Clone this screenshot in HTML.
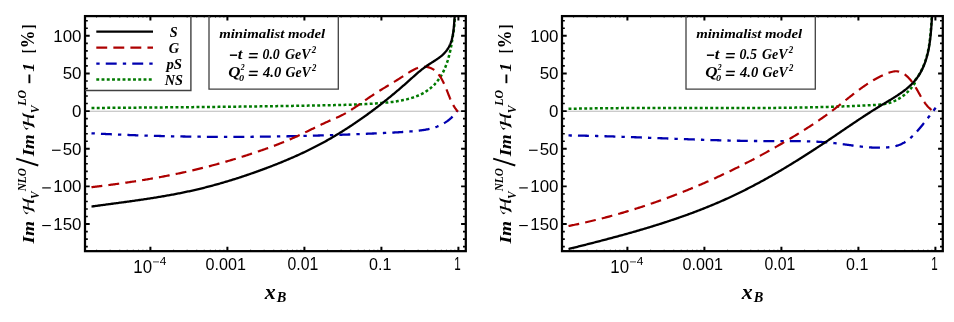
<!DOCTYPE html>
<html><head><meta charset="utf-8"><title>chart</title>
<style>html,body{margin:0;padding:0;background:#fff;}svg{display:block}</style></head>
<body>
<svg width="954" height="322" viewBox="0 0 954 322" style="will-change:transform">
<rect width="954" height="322" fill="#fff"/>
<g transform="translate(0,0)">
<clipPath id="cpa"><rect x="85.0" y="16.1" width="380.8" height="235.05"/></clipPath>
<line x1="85.0" x2="465.8" y1="111.25" y2="111.25" stroke="#8c8c8c" stroke-width="0.6"/>
<g clip-path="url(#cpa)">
<path d="M91.51,108.00L92.56,107.99L93.61,107.98L94.67,107.97L95.72,107.96L96.77,107.95L97.83,107.95L98.88,107.94L99.94,107.93L100.99,107.92L102.05,107.91L103.10,107.90L104.16,107.89L105.22,107.88L106.28,107.88L107.33,107.87L108.39,107.86L109.45,107.85L110.51,107.84L111.57,107.83L112.63,107.82L113.69,107.81L114.75,107.81L115.81,107.80L116.87,107.79L117.93,107.78L118.99,107.77L120.05,107.76L121.11,107.75L122.17,107.74L123.24,107.74L124.30,107.73L125.36,107.72L126.43,107.71L127.49,107.70L128.55,107.69L129.62,107.68L130.68,107.67L131.75,107.66L132.81,107.66L133.88,107.65L134.94,107.64L136.01,107.63L137.07,107.62L138.14,107.61L139.21,107.60L140.27,107.59L141.34,107.59L142.41,107.58L143.47,107.57L144.54,107.56L145.61,107.55L146.68,107.54L147.74,107.53L148.81,107.52L149.88,107.51L150.95,107.50L152.02,107.49L153.09,107.49L154.16,107.48L155.23,107.47L156.30,107.46L157.37,107.45L158.44,107.44L159.51,107.43L160.58,107.42L161.65,107.41L162.72,107.40L163.79,107.39L164.86,107.38L165.93,107.37L167.00,107.37L168.07,107.36L169.14,107.35L170.22,107.34L171.29,107.33L172.36,107.32L173.43,107.31L174.50,107.30L175.58,107.29L176.65,107.28L177.72,107.27L178.79,107.26L179.87,107.25L180.94,107.24L182.01,107.23L183.09,107.22L184.16,107.21L185.23,107.20L186.31,107.19L187.38,107.18L188.45,107.17L189.53,107.16L190.60,107.15L191.67,107.14L192.75,107.13L193.82,107.12L194.89,107.11L195.97,107.10L197.04,107.09L198.12,107.08L199.19,107.06L200.26,107.05L201.34,107.04L202.41,107.03L203.49,107.02L204.56,107.01L205.63,107.00L206.71,106.99L207.78,106.98L208.86,106.97L209.93,106.96L211.01,106.94L212.08,106.93L213.15,106.92L214.23,106.91L215.30,106.90L216.38,106.89L217.45,106.88L218.52,106.87L219.60,106.85L220.67,106.84L221.75,106.83L222.82,106.82L223.89,106.81L224.97,106.79L226.04,106.78L227.12,106.77L228.19,106.76L229.26,106.75L230.34,106.73L231.41,106.72L232.48,106.71L233.56,106.70L234.63,106.68L235.70,106.67L236.78,106.66L237.85,106.65L238.92,106.63L239.99,106.62L241.07,106.61L242.14,106.59L243.21,106.58L244.28,106.57L245.36,106.56L246.43,106.54L247.50,106.53L248.57,106.52L249.65,106.50L250.72,106.49L251.79,106.47L252.86,106.46L253.93,106.45L255.00,106.43L256.07,106.42L257.14,106.40L258.21,106.39L259.28,106.38L260.36,106.36L261.43,106.35L262.50,106.33L263.57,106.32L264.63,106.30L265.70,106.29L266.77,106.27L267.84,106.26L268.91,106.24L269.98,106.23L271.05,106.21L272.12,106.20L273.18,106.18L274.25,106.17L275.32,106.15L276.39,106.14L277.46,106.12L278.52,106.11L279.59,106.09L280.66,106.07L281.72,106.06L282.79,106.04L283.85,106.03L284.92,106.01L285.98,105.99L287.05,105.98L288.11,105.96L289.18,105.94L290.24,105.93L291.31,105.91L292.37,105.89L293.43,105.87L294.50,105.86L295.56,105.84L296.62,105.82L297.69,105.80L298.75,105.79L299.81,105.77L300.87,105.75L301.93,105.73L302.99,105.72L304.05,105.70L305.11,105.68L306.17,105.66L307.23,105.64L308.29,105.62L309.35,105.60L310.41,105.59L311.47,105.57L312.53,105.55L313.58,105.53L314.64,105.51L315.70,105.49L316.75,105.47L317.81,105.45L318.87,105.43L319.92,105.41L320.98,105.39L322.03,105.37L323.09,105.35L324.14,105.33L325.19,105.31L326.25,105.29L327.30,105.27L328.35,105.25L329.40,105.23L330.46,105.21L331.51,105.19L332.56,105.16L333.61,105.14L334.66,105.12L335.71,105.10L336.76,105.07L337.81,105.05L338.86,105.03L339.91,105.00L340.96,104.98L342.01,104.95L343.06,104.93L344.12,104.90L345.17,104.87L346.22,104.84L347.27,104.81L348.33,104.78L349.38,104.75L350.44,104.71L351.49,104.68L352.55,104.64L353.60,104.61L354.66,104.57L355.72,104.53L356.78,104.49L357.84,104.44L358.90,104.40L359.97,104.35L361.03,104.31L362.10,104.26L363.17,104.21L364.23,104.15L365.30,104.10L366.38,104.04L367.45,103.98L368.52,103.92L369.60,103.86L370.68,103.80L371.76,103.73L372.84,103.66L373.92,103.59L375.01,103.52L376.10,103.44L377.19,103.36L378.28,103.28L379.37,103.20L380.47,103.11L381.57,103.02L382.67,102.93L383.77,102.83L384.87,102.73L385.97,102.63L387.08,102.52L388.18,102.40L389.28,102.28L390.38,102.16L391.48,102.03L392.58,101.89L393.68,101.74L394.77,101.59L395.87,101.43L396.96,101.27L398.04,101.09L399.13,100.91L400.21,100.71L401.29,100.51L402.36,100.30L403.43,100.08L404.49,99.85L405.55,99.61L406.60,99.35L407.64,99.09L408.68,98.81L409.72,98.53L410.74,98.23L411.76,97.91L412.77,97.59L413.78,97.25L414.77,96.90L415.76,96.53L416.74,96.15L417.71,95.75L418.66,95.34L419.61,94.92L420.55,94.48L421.48,94.02L422.40,93.54L423.31,93.05L424.20,92.55L425.09,92.02L425.96,91.48L426.82,90.92L427.67,90.34L428.50,89.74L429.32,89.12L430.13,88.48L430.92,87.83L431.70,87.15L432.46,86.46L433.21,85.75L433.95,85.02L434.67,84.28L435.37,83.51L436.06,82.74L436.73,81.94L437.38,81.14L438.01,80.31L438.63,79.47L439.24,78.62L439.82,77.76L440.39,76.88L440.94,75.99L441.47,75.08L441.99,74.17L442.49,73.24L442.98,72.30L443.45,71.36L443.91,70.40L444.35,69.43L444.78,68.45L445.20,67.47L445.60,66.47L445.99,65.47L446.36,64.46L446.73,63.44L447.08,62.41L447.42,61.38L447.75,60.35L448.06,59.30L448.37,58.26L448.67,57.20L448.95,56.15L449.23,55.09L449.49,54.02L449.75,52.95L450.00,51.88L450.24,50.81L450.47,49.74L450.69,48.66L450.91,47.59L451.12,46.51L451.32,45.44L451.51,44.36L451.70,43.29L451.88,42.21L452.06,41.14L452.23,40.07L452.40,39.00L452.56,37.94L452.72,36.87L452.87,35.81L453.02,34.75L453.16,33.70L453.31,33.78L453.48,32.66L453.64,31.54L453.78,30.41L453.91,29.28L454.03,28.15L454.14,27.01L454.24,25.88L454.33,24.75L454.42,23.62L454.51,22.49L454.60,21.37L454.68,20.26L454.77,19.15L454.86,18.05L454.95,16.97L455.05,15.89L455.16,14.82L455.27,13.77L455.39,12.73L455.53,11.71L455.68,10.71" fill="none" stroke="#007a00" stroke-width="2.5" stroke-dasharray="2.9 2.35"/>
<path d="M91.49,133.29L92.43,133.34L93.36,133.39L94.30,133.44L95.23,133.49L96.16,133.53L97.10,133.58L98.03,133.63L98.97,133.68L99.90,133.73L100.84,133.77L101.77,133.82L102.71,133.87L103.64,133.91L104.57,133.96L105.51,134.00L106.44,134.05L107.38,134.09L108.31,134.14L109.25,134.18L110.18,134.22L111.11,134.26L112.05,134.31L112.98,134.35L113.92,134.39L114.85,134.43L115.79,134.47L116.72,134.51L117.65,134.55L118.59,134.59L119.52,134.63L120.46,134.67L121.39,134.71L122.33,134.75L123.26,134.79L124.20,134.83L125.13,134.86L126.06,134.90L127.00,134.94L127.93,134.97L128.87,135.01L129.80,135.04L130.73,135.08L131.67,135.11L132.60,135.15L133.54,135.18L134.47,135.22L135.41,135.25L136.34,135.28L137.27,135.32L138.21,135.35L139.14,135.38L140.08,135.41L141.01,135.44L141.95,135.47L142.88,135.50L143.81,135.53L144.75,135.56L145.68,135.59L146.62,135.62L147.55,135.65L148.48,135.68L149.42,135.71L150.35,135.74L151.29,135.76L152.22,135.79L153.16,135.82L154.09,135.84L155.02,135.87L155.96,135.89L156.89,135.92L157.83,135.94L158.76,135.97L159.69,135.99L160.63,136.02L161.56,136.04L162.50,136.06L163.43,136.09L164.37,136.11L165.30,136.13L166.23,136.15L167.17,136.17L168.10,136.20L169.04,136.22L169.97,136.24L170.90,136.26L171.84,136.28L172.77,136.30L173.71,136.32L174.64,136.33L175.57,136.35L176.51,136.37L177.44,136.39L178.38,136.41L179.31,136.42L180.24,136.44L181.18,136.46L182.11,136.47L183.05,136.49L183.98,136.50L184.91,136.52L185.85,136.53L186.78,136.55L187.72,136.56L188.65,136.58L189.58,136.59L190.52,136.60L191.45,136.62L192.39,136.63L193.32,136.64L194.25,136.65L195.19,136.66L196.12,136.67L197.06,136.69L197.99,136.70L198.92,136.71L199.86,136.72L200.79,136.73L201.73,136.73L202.66,136.74L203.59,136.75L204.53,136.76L205.46,136.77L206.40,136.78L207.33,136.78L208.26,136.79L209.20,136.80L210.13,136.80L211.07,136.81L212.00,136.81L212.93,136.82L213.87,136.83L214.80,136.83L215.74,136.83L216.67,136.84L217.60,136.84L218.54,136.85L219.47,136.85L220.41,136.85L221.34,136.85L222.27,136.86L223.21,136.86L224.14,136.86L225.08,136.86L226.01,136.86L226.94,136.86L227.88,136.86L228.81,136.86L229.75,136.86L230.68,136.86L231.61,136.86L232.55,136.86L233.48,136.86L234.41,136.86L235.35,136.86L236.28,136.85L237.22,136.85L238.15,136.85L239.08,136.85L240.02,136.84L240.95,136.84L241.89,136.83L242.82,136.83L243.75,136.82L244.69,136.82L245.62,136.81L246.56,136.81L247.49,136.80L248.42,136.80L249.36,136.79L250.29,136.78L251.22,136.78L252.16,136.77L253.09,136.76L254.03,136.75L254.96,136.74L255.89,136.74L256.83,136.73L257.76,136.72L258.70,136.71L259.63,136.70L260.56,136.69L261.50,136.68L262.43,136.67L263.37,136.66L264.30,136.65L265.23,136.63L266.17,136.62L267.10,136.61L268.03,136.60L268.97,136.58L269.90,136.57L270.84,136.56L271.77,136.55L272.70,136.53L273.64,136.52L274.57,136.50L275.51,136.49L276.44,136.47L277.37,136.46L278.31,136.44L279.24,136.43L280.17,136.41L281.11,136.39L282.04,136.38L282.98,136.36L283.91,136.34L284.84,136.33L285.78,136.31L286.71,136.29L287.65,136.27L288.58,136.25L289.51,136.24L290.45,136.22L291.38,136.20L292.32,136.18L293.25,136.16L294.18,136.14L295.12,136.12L296.05,136.10L296.98,136.07L297.92,136.05L298.85,136.03L299.79,136.01L300.72,135.99L301.65,135.97L302.59,135.94L303.52,135.92L304.46,135.90L305.39,135.87L306.32,135.85L307.26,135.83L308.19,135.80L309.12,135.78L310.06,135.75L310.99,135.73L311.93,135.70L312.86,135.68L313.79,135.65L314.73,135.62L315.66,135.60L316.60,135.57L317.53,135.54L318.46,135.52L319.40,135.49L320.33,135.46L321.27,135.43L322.20,135.41L323.13,135.38L324.07,135.35L325.00,135.32L325.93,135.29L326.87,135.26L327.80,135.23L328.74,135.20L329.67,135.17L330.60,135.14L331.54,135.11L332.47,135.08L333.41,135.05L334.34,135.02L335.27,134.99L336.21,134.95L337.14,134.92L338.08,134.89L339.01,134.86L339.94,134.82L340.88,134.79L341.81,134.76L342.74,134.72L343.68,134.69L344.61,134.66L345.55,134.62L346.48,134.59L347.41,134.55L348.35,134.52L349.28,134.48L350.22,134.45L351.15,134.41L352.08,134.37L353.02,134.34L353.95,134.30L354.89,134.26L355.82,134.23L356.75,134.19L357.69,134.15L358.62,134.11L359.56,134.08L360.49,134.04L361.42,134.00L362.36,133.96L363.29,133.92L364.23,133.88L365.16,133.84L366.09,133.80L367.03,133.76L367.96,133.72L368.90,133.68L369.83,133.64L370.76,133.60L371.70,133.56L372.63,133.52L373.56,133.48L374.50,133.43L375.43,133.39L376.37,133.35L377.30,133.31L378.23,133.27L379.17,133.22L380.10,133.18L381.04,133.14L381.97,133.09L382.90,133.05L383.84,133.00L384.77,132.96L385.71,132.92L386.64,132.87L387.58,132.83L388.51,132.78L389.44,132.73L390.38,132.69L391.31,132.64L392.25,132.59L393.18,132.54L394.12,132.49L395.05,132.44L395.98,132.39L396.92,132.34L397.85,132.28L398.79,132.23L399.73,132.17L400.66,132.12L401.60,132.06L402.53,132.00L403.47,131.94L404.40,131.87L405.34,131.81L406.28,131.75L407.21,131.68L408.15,131.61L409.09,131.54L410.03,131.47L410.96,131.40L411.90,131.32L412.84,131.24L413.78,131.16L414.71,131.08L415.65,130.99L416.58,130.90L417.52,130.80L418.45,130.70L419.38,130.59L420.31,130.47L421.24,130.35L422.16,130.22L423.08,130.09L424.00,129.94L424.92,129.79L425.83,129.63L426.74,129.46L427.65,129.28L428.55,129.09L429.45,128.88L430.34,128.67L431.23,128.45L432.11,128.21L432.99,127.96L433.87,127.69L434.74,127.42L435.60,127.12L436.46,126.82L437.31,126.50L438.15,126.16L438.99,125.81L439.82,125.44L440.64,125.05L441.46,124.65L442.27,124.24L443.07,123.80L443.86,123.35L444.64,122.88L445.42,122.40L446.19,121.89L446.94,121.37L447.69,120.83L448.43,120.27L449.16,119.69L449.88,119.09L450.59,118.48L451.29,117.84L451.97,117.18L452.65,116.51L453.31,115.81L453.97,115.09L454.61,114.36L455.24,113.60L455.85,112.81L456.46,112.01L457.05,111.19L457.63,110.34" fill="none" stroke="#0000b0" stroke-width="2.3" stroke-dasharray="3.35 6.1 10.95 6.1"/>
<path d="M91.47,187.19L92.51,187.07L93.55,186.94L94.60,186.82L95.64,186.69L96.68,186.57L97.72,186.44L98.76,186.31L99.80,186.18L100.84,186.05L101.88,185.92L102.92,185.79L103.96,185.66L105.00,185.53L106.04,185.39L107.08,185.26L108.12,185.12L109.15,184.99L110.19,184.85L111.23,184.71L112.27,184.58L113.31,184.44L114.34,184.30L115.38,184.16L116.42,184.01L117.46,183.87L118.49,183.73L119.53,183.59L120.57,183.44L121.60,183.29L122.64,183.15L123.67,183.00L124.71,182.85L125.75,182.70L126.78,182.55L127.82,182.40L128.85,182.25L129.89,182.09L130.92,181.94L131.95,181.78L132.99,181.63L134.02,181.47L135.05,181.31L136.09,181.15L137.12,180.99L138.15,180.83L139.19,180.66L140.22,180.50L141.25,180.33L142.28,180.17L143.31,180.00L144.35,179.83L145.38,179.66L146.41,179.49L147.44,179.32L148.47,179.14L149.50,178.97L150.53,178.79L151.56,178.61L152.59,178.43L153.62,178.25L154.65,178.07L155.67,177.89L156.70,177.71L157.73,177.52L158.76,177.34L159.79,177.15L160.81,176.96L161.84,176.77L162.87,176.58L163.90,176.38L164.92,176.19L165.95,175.99L166.97,175.79L168.00,175.60L169.02,175.40L170.05,175.19L171.07,174.99L172.10,174.79L173.12,174.58L174.15,174.37L175.17,174.16L176.19,173.95L177.22,173.74L178.24,173.53L179.26,173.31L180.29,173.09L181.31,172.87L182.33,172.65L183.35,172.43L184.37,172.21L185.39,171.98L186.41,171.76L187.43,171.53L188.45,171.30L189.47,171.07L190.49,170.84L191.51,170.60L192.53,170.36L193.55,170.13L194.57,169.89L195.59,169.64L196.60,169.40L197.62,169.16L198.64,168.91L199.65,168.66L200.67,168.41L201.69,168.16L202.70,167.91L203.72,167.65L204.73,167.39L205.75,167.14L206.76,166.88L207.77,166.61L208.79,166.35L209.80,166.09L210.81,165.82L211.83,165.55L212.84,165.28L213.85,165.01L214.86,164.74L215.87,164.46L216.88,164.19L217.89,163.91L218.90,163.63L219.91,163.35L220.92,163.07L221.92,162.78L222.93,162.50L223.94,162.21L224.95,161.92L225.95,161.63L226.96,161.34L227.96,161.05L228.97,160.75L229.97,160.46L230.98,160.16L231.98,159.86L232.98,159.56L233.98,159.26L234.99,158.95L235.99,158.65L236.99,158.34L237.99,158.03L238.99,157.72L239.99,157.41L240.99,157.10L241.98,156.79L242.98,156.47L243.98,156.15L244.97,155.83L245.97,155.51L246.96,155.19L247.96,154.87L248.95,154.55L249.95,154.22L250.94,153.89L251.93,153.57L252.92,153.24L253.91,152.90L254.91,152.57L255.89,152.24L256.88,151.90L257.87,151.56L258.86,151.23L259.85,150.89L260.83,150.55L261.82,150.20L262.81,149.86L263.79,149.51L264.77,149.17L265.76,148.82L266.74,148.47L267.72,148.12L268.70,147.76L269.68,147.41L270.66,147.05L271.64,146.69L272.62,146.33L273.60,145.97L274.57,145.60L275.55,145.23L276.52,144.86L277.50,144.49L278.47,144.11L279.44,143.73L280.41,143.35L281.38,142.97L282.35,142.58L283.32,142.19L284.29,141.80L285.25,141.40L286.22,141.00L287.18,140.60L288.14,140.19L289.11,139.78L290.07,139.37L291.03,138.96L291.99,138.54L292.94,138.11L293.90,137.68L294.86,137.25L295.81,136.82L296.76,136.38L297.72,135.94L298.67,135.50L299.62,135.05L300.57,134.60L301.52,134.15L302.47,133.70L303.41,133.24L304.36,132.79L305.31,132.33L306.25,131.87L307.20,131.41L308.14,130.95L309.09,130.49L310.03,130.03L310.98,129.57L311.92,129.11L312.87,128.65L313.81,128.19L314.75,127.73L315.70,127.27L316.64,126.81L317.59,126.35L318.53,125.90L319.47,125.45L320.42,125.00L321.36,124.55L322.31,124.10L323.25,123.66L324.20,123.21L325.15,122.78L326.09,122.34L327.04,121.91L327.99,121.48L328.94,121.05L329.89,120.63L330.84,120.22L331.79,119.80L332.74,119.39L333.69,118.98L334.64,118.57L335.59,118.16L336.54,117.75L337.48,117.33L338.42,116.90L339.36,116.47L340.30,116.02L341.23,115.57L342.16,115.10L343.09,114.62L344.01,114.13L344.92,113.63L345.83,113.11L346.74,112.59L347.65,112.06L348.55,111.52L349.45,110.96L350.34,110.41L351.23,109.84L352.12,109.27L353.01,108.69L353.89,108.11L354.77,107.52L355.65,106.92L356.53,106.32L357.41,105.72L358.28,105.12L359.15,104.51L360.02,103.91L360.89,103.30L361.76,102.69L362.62,102.08L363.49,101.47L364.36,100.86L365.22,100.26L366.08,99.66L366.95,99.06L367.81,98.46L368.67,97.87L369.54,97.28L370.40,96.70L371.27,96.12L372.13,95.55L373.00,94.98L373.86,94.41L374.73,93.85L375.59,93.29L376.46,92.74L377.33,92.19L378.20,91.64L379.07,91.10L379.94,90.55L380.81,90.01L381.68,89.47L382.56,88.93L383.43,88.39L384.31,87.86L385.18,87.32L386.06,86.78L386.94,86.25L387.82,85.71L388.70,85.17L389.59,84.64L390.47,84.10L391.36,83.55L392.25,83.01L393.14,82.47L394.03,81.92L394.93,81.37L395.82,80.82L396.72,80.26L397.62,79.70L398.52,79.14L399.42,78.57L400.33,78.00L401.24,77.43L402.15,76.85L403.06,76.26L403.98,75.67L404.89,75.07L405.81,74.47L406.74,73.87L407.66,73.27L408.59,72.68L409.52,72.10L410.45,71.53L411.39,70.97L412.33,70.44L413.28,69.92L414.22,69.44L415.17,68.98L416.13,68.55L417.09,68.17L418.05,67.82L419.02,67.51L419.99,67.25L420.97,67.03L421.95,66.87L422.93,66.77L423.92,66.72L424.91,66.74L425.90,66.81L426.88,66.94L427.85,67.13L428.81,67.37L429.75,67.67L430.67,68.02L431.57,68.42L432.43,68.88L433.27,69.39L434.07,69.94L434.86,70.54L435.61,71.18L436.34,71.86L437.05,72.58L437.73,73.34L438.39,74.13L439.03,74.96L439.65,75.81L440.25,76.69L440.83,77.59L441.39,78.52L441.93,79.47L442.45,80.43L442.96,81.41L443.46,82.41L443.94,83.41L444.41,84.43L444.86,85.45L445.30,86.47L445.73,87.50L446.16,88.53L446.57,89.55L446.97,90.57L447.37,91.59L447.76,92.59L448.14,93.58L448.52,94.56L448.89,95.52L449.26,96.47L449.64,97.40L450.01,98.32L450.40,99.23L450.79,100.14L451.19,101.03L451.61,101.92L452.04,102.80L452.49,103.68L452.96,104.56L453.46,105.44L453.99,106.31L454.54,107.19L455.13,108.08L455.75,108.96L456.41,109.86L457.10,110.76L457.85,111.67" fill="none" stroke="#ad0000" stroke-width="2.2" stroke-dasharray="10.9 6.15"/>
<path d="M91.51,206.54L92.59,206.39L93.68,206.24L94.77,206.09L95.85,205.94L96.94,205.80L98.03,205.65L99.12,205.50L100.21,205.36L101.29,205.21L102.38,205.06L103.47,204.92L104.56,204.77L105.65,204.63L106.73,204.48L107.82,204.34L108.91,204.19L110.00,204.05L111.09,203.90L112.18,203.76L113.27,203.61L114.36,203.46L115.44,203.32L116.53,203.17L117.62,203.03L118.71,202.88L119.80,202.73L120.89,202.59L121.98,202.44L123.07,202.29L124.15,202.14L125.24,201.99L126.33,201.84L127.42,201.69L128.51,201.54L129.60,201.39L130.69,201.24L131.77,201.09L132.86,200.94L133.95,200.78L135.04,200.63L136.12,200.47L137.21,200.32L138.30,200.16L139.39,200.00L140.47,199.84L141.56,199.68L142.65,199.52L143.73,199.36L144.82,199.20L145.91,199.04L146.99,198.87L148.08,198.71L149.16,198.54L150.25,198.37L151.33,198.20L152.42,198.03L153.50,197.86L154.59,197.69L155.67,197.51L156.76,197.34L157.84,197.16L158.92,196.98L160.01,196.80L161.09,196.62L162.17,196.44L163.25,196.25L164.34,196.06L165.42,195.88L166.50,195.69L167.58,195.49L168.66,195.30L169.74,195.11L170.82,194.91L171.90,194.71L172.98,194.51L174.06,194.31L175.14,194.10L176.21,193.90L177.29,193.69L178.37,193.48L179.44,193.27L180.52,193.05L181.60,192.84L182.67,192.62L183.75,192.40L184.82,192.18L185.90,191.95L186.97,191.72L188.04,191.49L189.11,191.26L190.19,191.03L191.26,190.79L192.33,190.55L193.40,190.31L194.47,190.06L195.54,189.82L196.61,189.57L197.68,189.32L198.74,189.06L199.81,188.81L200.88,188.55L201.94,188.29L203.01,188.02L204.08,187.76L205.14,187.49L206.20,187.22L207.27,186.94L208.33,186.67L209.39,186.39L210.45,186.11L211.52,185.83L212.58,185.54L213.64,185.26L214.70,184.97L215.76,184.68L216.81,184.38L217.87,184.09L218.93,183.79L219.99,183.49L221.04,183.19L222.10,182.88L223.15,182.58L224.21,182.27L225.26,181.96L226.31,181.64L227.37,181.33L228.42,181.01L229.47,180.69L230.52,180.37L231.57,180.05L232.62,179.72L233.67,179.39L234.72,179.06L235.76,178.73L236.81,178.40L237.86,178.06L238.90,177.73L239.95,177.39L240.99,177.04L242.04,176.70L243.08,176.36L244.12,176.01L245.16,175.66L246.21,175.31L247.25,174.96L248.29,174.60L249.32,174.24L250.36,173.89L251.40,173.53L252.44,173.16L253.48,172.80L254.51,172.43L255.55,172.07L256.58,171.70L257.62,171.33L258.65,170.95L259.68,170.58L260.71,170.20L261.74,169.82L262.77,169.44L263.80,169.06L264.83,168.68L265.86,168.30L266.89,167.91L267.92,167.52L268.94,167.13L269.97,166.74L270.99,166.35L272.02,165.95L273.04,165.55L274.06,165.15L275.08,164.75L276.10,164.35L277.12,163.95L278.14,163.54L279.16,163.13L280.18,162.72L281.19,162.31L282.21,161.89L283.22,161.47L284.24,161.05L285.25,160.63L286.26,160.21L287.27,159.78L288.28,159.36L289.29,158.92L290.30,158.49L291.30,158.06L292.31,157.62L293.31,157.18L294.31,156.74L295.32,156.29L296.32,155.84L297.32,155.40L298.31,154.94L299.31,154.49L300.31,154.03L301.30,153.57L302.30,153.11L303.29,152.64L304.28,152.18L305.27,151.70L306.26,151.23L307.25,150.76L308.23,150.28L309.22,149.79L310.20,149.31L311.18,148.82L312.16,148.33L313.14,147.84L314.12,147.34L315.10,146.84L316.07,146.34L317.04,145.84L318.02,145.33L318.99,144.82L319.96,144.30L320.92,143.79L321.89,143.26L322.86,142.74L323.82,142.21L324.78,141.68L325.74,141.15L326.70,140.62L327.66,140.08L328.61,139.54L329.57,138.99L330.52,138.44L331.47,137.89L332.42,137.34L333.37,136.79L334.32,136.23L335.26,135.67L336.20,135.10L337.15,134.53L338.09,133.97L339.03,133.39L339.96,132.82L340.90,132.24L341.83,131.66L342.77,131.08L343.70,130.49L344.63,129.90L345.56,129.31L346.48,128.72L347.41,128.13L348.33,127.53L349.25,126.93L350.17,126.33L351.09,125.72L352.01,125.11L352.92,124.50L353.84,123.89L354.75,123.28L355.66,122.66L356.57,122.04L357.47,121.42L358.38,120.80L359.28,120.17L360.19,119.54L361.09,118.91L361.99,118.28L362.88,117.65L363.78,117.01L364.67,116.37L365.57,115.73L366.46,115.09L367.35,114.45L368.23,113.80L369.12,113.15L370.00,112.50L370.89,111.85L371.77,111.20L372.65,110.54L373.52,109.88L374.40,109.22L375.27,108.56L376.15,107.90L377.02,107.23L377.89,106.57L378.76,105.90L379.62,105.23L380.49,104.55L381.35,103.88L382.21,103.20L383.07,102.53L383.93,101.85L384.79,101.16L385.64,100.48L386.50,99.80L387.35,99.11L388.20,98.42L389.05,97.73L389.90,97.04L390.74,96.34L391.59,95.65L392.43,94.95L393.27,94.25L394.11,93.55L394.95,92.85L395.79,92.14L396.63,91.44L397.46,90.73L398.29,90.02L399.12,89.31L399.95,88.60L400.78,87.89L401.61,87.17L402.43,86.46L403.26,85.74L404.08,85.02L404.90,84.30L405.72,83.57L406.54,82.85L407.36,82.12L408.17,81.40L408.99,80.67L409.80,79.94L410.61,79.21L411.42,78.47L412.24,77.74L413.05,77.01L413.86,76.29L414.68,75.56L415.50,74.84L416.32,74.11L417.15,73.40L417.98,72.69L418.82,71.98L419.66,71.28L420.50,70.58L421.36,69.89L422.22,69.21L423.09,68.54L423.97,67.87L424.86,67.22L425.75,66.57L426.66,65.93L427.58,65.31L428.50,64.69L429.44,64.08L430.38,63.48L431.32,62.88L432.26,62.29L433.21,61.69L434.15,61.09L435.08,60.49L436.00,59.89L436.92,59.27L437.83,58.65L438.72,58.02L439.59,57.37L440.45,56.71L441.28,56.03L442.10,55.33L442.89,54.62L443.65,53.88L444.39,53.13L445.11,52.35L445.79,51.55L446.45,50.73L447.07,49.89L447.66,49.02L448.22,48.14L448.75,47.22L449.24,46.29L449.71,45.34L450.14,44.36L450.54,43.37L450.92,42.36L451.26,41.33L451.58,40.29L451.88,39.23L452.14,38.16L452.39,37.08L452.62,35.99L452.82,34.89L453.01,33.78L453.18,32.66L453.34,31.54L453.48,30.41L453.61,29.28L453.73,28.15L453.84,27.01L453.94,25.88L454.03,24.75L454.12,23.62L454.21,22.49L454.30,21.37L454.38,20.26L454.47,19.15L454.56,18.05L454.65,16.97L454.75,15.89L454.86,14.82L454.97,13.77L455.09,12.73L455.23,11.71L455.38,10.71" fill="none" stroke="#000000" stroke-width="2.3"/>
</g>
<g stroke="#000" fill="none"><path d="M85.0,246.64h2.8M465.8,246.64h-2.8" stroke-width="1.6"/><path d="M85.0,239.11h2.8M465.8,239.11h-2.8" stroke-width="1.6"/><path d="M85.0,231.58h2.8M465.8,231.58h-2.8" stroke-width="1.6"/><path d="M85.0,224.05h4.7M465.8,224.05h-4.7" stroke-width="1.9"/><path d="M85.0,216.52h2.8M465.8,216.52h-2.8" stroke-width="1.6"/><path d="M85.0,208.99h2.8M465.8,208.99h-2.8" stroke-width="1.6"/><path d="M85.0,201.46h2.8M465.8,201.46h-2.8" stroke-width="1.6"/><path d="M85.0,193.93h2.8M465.8,193.93h-2.8" stroke-width="1.6"/><path d="M85.0,186.40h4.7M465.8,186.40h-4.7" stroke-width="1.9"/><path d="M85.0,178.87h2.8M465.8,178.87h-2.8" stroke-width="1.6"/><path d="M85.0,171.34h2.8M465.8,171.34h-2.8" stroke-width="1.6"/><path d="M85.0,163.81h2.8M465.8,163.81h-2.8" stroke-width="1.6"/><path d="M85.0,156.28h2.8M465.8,156.28h-2.8" stroke-width="1.6"/><path d="M85.0,148.75h4.7M465.8,148.75h-4.7" stroke-width="1.9"/><path d="M85.0,141.22h2.8M465.8,141.22h-2.8" stroke-width="1.6"/><path d="M85.0,133.69h2.8M465.8,133.69h-2.8" stroke-width="1.6"/><path d="M85.0,126.16h2.8M465.8,126.16h-2.8" stroke-width="1.6"/><path d="M85.0,118.63h2.8M465.8,118.63h-2.8" stroke-width="1.6"/><path d="M85.0,111.10h4.7M465.8,111.10h-4.7" stroke-width="1.9"/><path d="M85.0,103.57h2.8M465.8,103.57h-2.8" stroke-width="1.6"/><path d="M85.0,96.04h2.8M465.8,96.04h-2.8" stroke-width="1.6"/><path d="M85.0,88.51h2.8M465.8,88.51h-2.8" stroke-width="1.6"/><path d="M85.0,80.98h2.8M465.8,80.98h-2.8" stroke-width="1.6"/><path d="M85.0,73.45h4.7M465.8,73.45h-4.7" stroke-width="1.9"/><path d="M85.0,65.92h2.8M465.8,65.92h-2.8" stroke-width="1.6"/><path d="M85.0,58.39h2.8M465.8,58.39h-2.8" stroke-width="1.6"/><path d="M85.0,50.86h2.8M465.8,50.86h-2.8" stroke-width="1.6"/><path d="M85.0,43.33h2.8M465.8,43.33h-2.8" stroke-width="1.6"/><path d="M85.0,35.80h4.7M465.8,35.80h-4.7" stroke-width="1.9"/><path d="M85.0,28.27h2.8M465.8,28.27h-2.8" stroke-width="1.6"/><path d="M85.0,20.74h2.8M465.8,20.74h-2.8" stroke-width="1.6"/><path d="M96.58,251.15v-1.45M96.58,16.1v1.45" stroke-width="0.8"/><path d="M110.14,251.15v-1.45M110.14,16.1v1.45" stroke-width="0.8"/><path d="M119.76,251.15v-1.45M119.76,16.1v1.45" stroke-width="0.8"/><path d="M127.22,251.15v-1.45M127.22,16.1v1.45" stroke-width="0.8"/><path d="M133.32,251.15v-1.45M133.32,16.1v1.45" stroke-width="0.8"/><path d="M138.47,251.15v-1.45M138.47,16.1v1.45" stroke-width="0.8"/><path d="M142.94,251.15v-1.45M142.94,16.1v1.45" stroke-width="0.8"/><path d="M146.88,251.15v-1.45M146.88,16.1v1.45" stroke-width="0.8"/><path d="M150.40,251.15v-4.3M150.40,16.1v4.3" stroke-width="2.0"/><path d="M173.58,251.15v-1.45M173.58,16.1v1.45" stroke-width="0.8"/><path d="M187.14,251.15v-1.45M187.14,16.1v1.45" stroke-width="0.8"/><path d="M196.76,251.15v-1.45M196.76,16.1v1.45" stroke-width="0.8"/><path d="M204.22,251.15v-1.45M204.22,16.1v1.45" stroke-width="0.8"/><path d="M210.32,251.15v-1.45M210.32,16.1v1.45" stroke-width="0.8"/><path d="M215.47,251.15v-1.45M215.47,16.1v1.45" stroke-width="0.8"/><path d="M219.94,251.15v-1.45M219.94,16.1v1.45" stroke-width="0.8"/><path d="M223.88,251.15v-1.45M223.88,16.1v1.45" stroke-width="0.8"/><path d="M227.40,251.15v-4.3M227.40,16.1v4.3" stroke-width="2.0"/><path d="M250.58,251.15v-1.45M250.58,16.1v1.45" stroke-width="0.8"/><path d="M264.14,251.15v-1.45M264.14,16.1v1.45" stroke-width="0.8"/><path d="M273.76,251.15v-1.45M273.76,16.1v1.45" stroke-width="0.8"/><path d="M281.22,251.15v-1.45M281.22,16.1v1.45" stroke-width="0.8"/><path d="M287.32,251.15v-1.45M287.32,16.1v1.45" stroke-width="0.8"/><path d="M292.47,251.15v-1.45M292.47,16.1v1.45" stroke-width="0.8"/><path d="M296.94,251.15v-1.45M296.94,16.1v1.45" stroke-width="0.8"/><path d="M300.88,251.15v-1.45M300.88,16.1v1.45" stroke-width="0.8"/><path d="M304.40,251.15v-4.3M304.40,16.1v4.3" stroke-width="2.0"/><path d="M327.58,251.15v-1.45M327.58,16.1v1.45" stroke-width="0.8"/><path d="M341.14,251.15v-1.45M341.14,16.1v1.45" stroke-width="0.8"/><path d="M350.76,251.15v-1.45M350.76,16.1v1.45" stroke-width="0.8"/><path d="M358.22,251.15v-1.45M358.22,16.1v1.45" stroke-width="0.8"/><path d="M364.32,251.15v-1.45M364.32,16.1v1.45" stroke-width="0.8"/><path d="M369.47,251.15v-1.45M369.47,16.1v1.45" stroke-width="0.8"/><path d="M373.94,251.15v-1.45M373.94,16.1v1.45" stroke-width="0.8"/><path d="M377.88,251.15v-1.45M377.88,16.1v1.45" stroke-width="0.8"/><path d="M381.40,251.15v-4.3M381.40,16.1v4.3" stroke-width="2.0"/><path d="M404.58,251.15v-1.45M404.58,16.1v1.45" stroke-width="0.8"/><path d="M418.14,251.15v-1.45M418.14,16.1v1.45" stroke-width="0.8"/><path d="M427.76,251.15v-1.45M427.76,16.1v1.45" stroke-width="0.8"/><path d="M435.22,251.15v-1.45M435.22,16.1v1.45" stroke-width="0.8"/><path d="M441.32,251.15v-1.45M441.32,16.1v1.45" stroke-width="0.8"/><path d="M446.47,251.15v-1.45M446.47,16.1v1.45" stroke-width="0.8"/><path d="M450.94,251.15v-1.45M450.94,16.1v1.45" stroke-width="0.8"/><path d="M454.88,251.15v-1.45M454.88,16.1v1.45" stroke-width="0.8"/><path d="M458.40,251.15v-4.3M458.40,16.1v4.3" stroke-width="2.0"/></g>
<rect x="85.0" y="16.1" width="380.8" height="235.05" fill="none" stroke="#000" stroke-width="2.25"/>
<text x="53.25" y="41.73" style="font-family:'Liberation Sans',sans-serif;font-size:16.9px">100</text>
<text x="62.72" y="79.38" style="font-family:'Liberation Sans',sans-serif;font-size:16.9px">50</text>
<text x="72.01" y="117.03" style="font-family:'Liberation Sans',sans-serif;font-size:16.9px">0</text>
<text x="62.72" y="154.68" style="font-family:'Liberation Sans',sans-serif;font-size:16.9px">50</text>
<path d="M51.99,150.25h8.6" stroke="#000" stroke-width="1.15"/>
<text x="53.25" y="192.33" style="font-family:'Liberation Sans',sans-serif;font-size:16.9px">100</text>
<path d="M42.20,187.90h8.6" stroke="#000" stroke-width="1.15"/>
<text x="53.25" y="229.98" style="font-family:'Liberation Sans',sans-serif;font-size:16.9px">150</text>
<path d="M42.20,225.55h8.6" stroke="#000" stroke-width="1.15"/>
<text transform="translate(205.45,270.15) scale(0.9285,1)" style="font-family:'Liberation Sans',sans-serif;font-size:17.43px" fill="#000" xml:space="preserve">0.001</text>
<text transform="translate(287.57,270.15) scale(0.9069,1)" style="font-family:'Liberation Sans',sans-serif;font-size:17.43px" fill="#000" xml:space="preserve">0.01</text>
<text transform="translate(369.06,270.15) scale(0.9224,1)" style="font-family:'Liberation Sans',sans-serif;font-size:17.43px" fill="#000" xml:space="preserve">0.1</text>
<text transform="translate(454.27,270.15) scale(0.6576,1)" style="font-family:'Liberation Sans',sans-serif;font-size:17.68px" fill="#000" xml:space="preserve">1</text>
<text transform="translate(133.25,272.60) scale(0.9446,1)" style="font-family:'Liberation Sans',sans-serif;font-size:17.86px" fill="#000" xml:space="preserve">10</text>
<text transform="translate(159.86,264.60) scale(1.0189,1)" style="font-family:'Liberation Sans',sans-serif;font-size:11.74px" fill="#000" xml:space="preserve">4</text>
<path d="M153.0,261.9h6.0" stroke="#222" stroke-width="0.85"/>
<text transform="translate(264.82,298.60) scale(1.0164,1)" style="font-family:'Liberation Serif',serif;font-weight:bold;font-style:italic;font-size:21.52px" fill="#000" xml:space="preserve">x</text>
<text transform="translate(276.84,301.60) scale(1.0382,1)" style="font-family:'Liberation Serif',serif;font-weight:bold;font-style:italic;font-size:13.85px" fill="#000" xml:space="preserve">B</text>
<g transform="translate(0,244) rotate(-90)"><text transform="translate(0.49,34.00) scale(1.0954,1)" style="font-family:'Liberation Serif',serif;font-weight:bold;font-style:italic;font-size:17.69px" fill="#000" xml:space="preserve">Im</text><path transform="translate(29.49,34.06) scale(0.01639,-0.01640)" d="M1056 720Q1014 693 983.0 643.0Q952 593 941.0 560.0Q930 527 911 455Q907 441 905 434Q904 430 896.5 403.5Q889 377 887.5 371.5Q886 366 880.0 341.5Q874 317 872.0 308.5Q870 300 865.0 278.5Q860 257 858.5 246.0Q857 235 853.5 215.5Q850 196 849.0 182.0Q848 168 847.0 151.0Q846 134 846 118Q846 93 860.0 75.5Q874 58 898 58Q910 58 918 62L921 57Q898 33 843.5 11.5Q789 -10 755 -10Q731 -10 718.5 32.0Q706 74 706 107Q706 124 707.5 142.0Q709 160 710.5 174.0Q712 188 716.0 208.5Q720 229 722.5 240.5Q725 252 730.5 275.0Q736 298 738.5 306.0Q741 314 748.0 340.0Q755 366 757 372Q701 332 671 332Q650 332 607.0 337.0Q564 342 543 342Q481 342 446.5 319.5Q412 297 401.5 260.0Q391 223 386.5 183.0Q382 143 369.0 98.5Q356 54 328 27Q304 4 244.5 -14.5Q185 -33 147 -33Q127 -33 118 -23Q226 -11 376 641Q372 645 365 645Q340 645 303 632Q215 602 163.5 552.5Q112 503 112 420Q112 369 134 338Q95 342 57.0 382.0Q19 422 19 461Q19 479 48.5 508.0Q78 537 104 556Q186 614 300.0 650.0Q414 686 516 686Q532 686 537 675Q501 564 431 340Q483 399 549 399Q575 399 626.0 394.0Q677 389 703 389Q751 389 769 418Q776 430 783 467Q790 498 814.0 568.5Q838 639 850 653Q870 676 939.5 698.5Q1009 721 1049 723Z"/><text transform="translate(52.71,25.90) scale(0.8724,1)" style="font-family:'Liberation Serif',serif;font-weight:bold;font-style:italic;font-size:12.92px" fill="#000" xml:space="preserve">NLO</text><text transform="translate(45.12,39.00) scale(0.8992,1)" style="font-family:'Liberation Serif',serif;font-weight:bold;font-style:italic;font-size:12.62px" fill="#000" xml:space="preserve">V</text><path d="M78.5,38.3L85.4,16.2" stroke="#000" stroke-width="1.9" fill="none"/><text transform="translate(87.69,34.00) scale(1.0704,1)" style="font-family:'Liberation Serif',serif;font-weight:bold;font-style:italic;font-size:17.69px" fill="#000" xml:space="preserve">Im</text><path transform="translate(113.98,34.06) scale(0.01688,-0.01640)" d="M1056 720Q1014 693 983.0 643.0Q952 593 941.0 560.0Q930 527 911 455Q907 441 905 434Q904 430 896.5 403.5Q889 377 887.5 371.5Q886 366 880.0 341.5Q874 317 872.0 308.5Q870 300 865.0 278.5Q860 257 858.5 246.0Q857 235 853.5 215.5Q850 196 849.0 182.0Q848 168 847.0 151.0Q846 134 846 118Q846 93 860.0 75.5Q874 58 898 58Q910 58 918 62L921 57Q898 33 843.5 11.5Q789 -10 755 -10Q731 -10 718.5 32.0Q706 74 706 107Q706 124 707.5 142.0Q709 160 710.5 174.0Q712 188 716.0 208.5Q720 229 722.5 240.5Q725 252 730.5 275.0Q736 298 738.5 306.0Q741 314 748.0 340.0Q755 366 757 372Q701 332 671 332Q650 332 607.0 337.0Q564 342 543 342Q481 342 446.5 319.5Q412 297 401.5 260.0Q391 223 386.5 183.0Q382 143 369.0 98.5Q356 54 328 27Q304 4 244.5 -14.5Q185 -33 147 -33Q127 -33 118 -23Q226 -11 376 641Q372 645 365 645Q340 645 303 632Q215 602 163.5 552.5Q112 503 112 420Q112 369 134 338Q95 342 57.0 382.0Q19 422 19 461Q19 479 48.5 508.0Q78 537 104 556Q186 614 300.0 650.0Q414 686 516 686Q532 686 537 675Q501 564 431 340Q483 399 549 399Q575 399 626.0 394.0Q677 389 703 389Q751 389 769 418Q776 430 783 467Q790 498 814.0 568.5Q838 639 850 653Q870 676 939.5 698.5Q1009 721 1049 723Z"/><text transform="translate(138.22,25.90) scale(0.9156,1)" style="font-family:'Liberation Serif',serif;font-weight:bold;font-style:italic;font-size:12.92px" fill="#000" xml:space="preserve">LO</text><text transform="translate(130.80,39.00) scale(0.9228,1)" style="font-family:'Liberation Serif',serif;font-weight:bold;font-style:italic;font-size:12.62px" fill="#000" xml:space="preserve">V</text><path d="M160.8,29.4h8.7" stroke="#000" stroke-width="1.9" fill="none"/><text transform="translate(172.24,34.00) scale(1.0270,1)" style="font-family:'Liberation Serif',serif;font-weight:bold;font-style:italic;font-size:17.42px" fill="#000" xml:space="preserve">1</text><text transform="translate(190.85,34.00) scale(0.7161,1)" style="font-family:'Liberation Serif',serif;font-weight:bold;font-size:17.00px" fill="#000" xml:space="preserve">[</text><text transform="translate(195.83,34.00) scale(0.9893,1)" style="font-family:'Liberation Serif',serif;font-weight:bold;font-size:17.85px" fill="#000" xml:space="preserve">%</text><text transform="translate(214.97,34.00) scale(0.7754,1)" style="font-family:'Liberation Serif',serif;font-weight:bold;font-size:17.00px" fill="#000" xml:space="preserve">]</text></g>
<path d="M190.9,16.1V90.45H85.0" fill="none" stroke="#404040" stroke-width="1.4"/>
<path d="M96.3,31.6H153.0" fill="none" stroke="#000000" stroke-width="2.3"/>
<text transform="translate(169.82,37.00) scale(1.0131,1)" style="font-family:'Liberation Serif',serif;font-weight:bold;font-style:italic;font-size:13.90px" fill="#000" xml:space="preserve">S</text>
<path d="M96.3,47.6H153.0" fill="none" stroke="#ad0000" stroke-width="2.2" stroke-dasharray="10.9 6.15"/>
<text transform="translate(168.67,53.10) scale(1.0368,1)" style="font-family:'Liberation Serif',serif;font-weight:bold;font-style:italic;font-size:13.90px" fill="#000" xml:space="preserve">G</text>
<path d="M96.3,63.6H153.0" fill="none" stroke="#0000b0" stroke-width="2.3" stroke-dasharray="3.35 6.1 10.95 6.1"/>
<text transform="translate(166.44,68.80) scale(1.0658,1)" style="font-family:'Liberation Serif',serif;font-weight:bold;font-style:italic;font-size:13.90px" fill="#000" xml:space="preserve">pS</text>
<path d="M96.3,79.6H153.0" fill="none" stroke="#007a00" stroke-width="2.5" stroke-dasharray="2.9 2.35"/>
<text transform="translate(164.64,84.70) scale(1.0269,1)" style="font-family:'Liberation Serif',serif;font-weight:bold;font-style:italic;font-size:13.90px" fill="#000" xml:space="preserve">NS</text>
<path d="M209.0,16.1V89.1H338.3V16.1" fill="none" stroke="#404040" stroke-width="1.3"/>
<text transform="translate(219.20,37.90) scale(1.1651,1)" style="font-family:'Liberation Serif',serif;font-weight:bold;font-style:italic;font-size:12.75px" fill="#000" xml:space="preserve">minimalist model</text>
<text transform="translate(237.70,58.90) scale(1.2077,1)" style="font-family:'Liberation Serif',serif;font-weight:bold;font-style:italic;font-size:13.80px" fill="#000" xml:space="preserve">t</text>
<path d="M229.9,55.2h7.2" stroke="#000" stroke-width="1.5"/>
<path d="M249.3,53.7h8.6M248.7,57.5h8.6" stroke="#000" stroke-width="1.45"/>
<text transform="translate(262.48,58.90) scale(1.0103,1)" style="font-family:'Liberation Serif',serif;font-weight:bold;font-style:italic;font-size:13.69px" fill="#000" xml:space="preserve">0.0</text>
<text transform="translate(284.98,58.90) scale(0.9969,1)" style="font-family:'Liberation Serif',serif;font-weight:bold;font-style:italic;font-size:14.00px" fill="#000" xml:space="preserve">GeV</text>
<text transform="translate(311.79,52.50) scale(0.8844,1)" style="font-family:'Liberation Serif',serif;font-weight:bold;font-style:italic;font-size:10.15px" fill="#000" xml:space="preserve">2</text>
<text transform="translate(228.32,76.60) scale(1.2263,1)" style="font-family:'Liberation Serif',serif;font-weight:bold;font-style:italic;font-size:13.80px" fill="#000" xml:space="preserve">Q</text>
<text transform="translate(240.68,69.80) scale(0.9001,1)" style="font-family:'Liberation Serif',serif;font-weight:bold;font-style:italic;font-size:8.62px" fill="#000" xml:space="preserve">2</text>
<text transform="translate(238.89,80.70) scale(1.1074,1)" style="font-family:'Liberation Serif',serif;font-weight:bold;font-style:italic;font-size:9.23px" fill="#000" xml:space="preserve">0</text>
<path d="M249.3,71.4h8.6M248.7,75.2h8.6" stroke="#000" stroke-width="1.45"/>
<text transform="translate(263.05,76.60) scale(1.0661,1)" style="font-family:'Liberation Serif',serif;font-weight:bold;font-style:italic;font-size:13.69px" fill="#000" xml:space="preserve">4.0</text>
<text transform="translate(285.48,76.60) scale(0.9893,1)" style="font-family:'Liberation Serif',serif;font-weight:bold;font-style:italic;font-size:14.00px" fill="#000" xml:space="preserve">GeV</text>
<text transform="translate(312.09,70.70) scale(0.8776,1)" style="font-family:'Liberation Serif',serif;font-weight:bold;font-style:italic;font-size:10.00px" fill="#000" xml:space="preserve">2</text>
</g>
<g transform="translate(477,0)">
<clipPath id="cpb"><rect x="85.0" y="16.1" width="380.8" height="235.05"/></clipPath>
<line x1="85.0" x2="465.8" y1="111.25" y2="111.25" stroke="#8c8c8c" stroke-width="0.6"/>
<g clip-path="url(#cpb)">
<path d="M91.51,108.80L92.42,108.78L93.33,108.76L94.24,108.74L95.15,108.73L96.06,108.71L96.97,108.69L97.88,108.67L98.79,108.65L99.71,108.63L100.62,108.62L101.53,108.60L102.44,108.58L103.35,108.57L104.26,108.55L105.17,108.54L106.08,108.52L106.99,108.51L107.90,108.49L108.81,108.48L109.72,108.46L110.63,108.45L111.54,108.43L112.45,108.42L113.36,108.41L114.28,108.39L115.19,108.38L116.10,108.37L117.01,108.36L117.92,108.35L118.83,108.33L119.74,108.32L120.65,108.31L121.56,108.30L122.47,108.29L123.38,108.28L124.29,108.27L125.21,108.26L126.12,108.25L127.03,108.24L127.94,108.23L128.85,108.22L129.76,108.21L130.67,108.21L131.58,108.20L132.49,108.19L133.41,108.18L134.32,108.17L135.23,108.17L136.14,108.16L137.05,108.15L137.96,108.15L138.87,108.14L139.78,108.13L140.69,108.13L141.61,108.12L142.52,108.12L143.43,108.11L144.34,108.10L145.25,108.10L146.16,108.09L147.07,108.09L147.98,108.08L148.90,108.08L149.81,108.08L150.72,108.07L151.63,108.07L152.54,108.06L153.45,108.06L154.36,108.06L155.28,108.05L156.19,108.05L157.10,108.05L158.01,108.04L158.92,108.04L159.83,108.04L160.74,108.04L161.66,108.03L162.57,108.03L163.48,108.03L164.39,108.03L165.30,108.03L166.21,108.03L167.13,108.02L168.04,108.02L168.95,108.02L169.86,108.02L170.77,108.02L171.68,108.02L172.59,108.02L173.51,108.02L174.42,108.02L175.33,108.02L176.24,108.02L177.15,108.02L178.06,108.02L178.98,108.02L179.89,108.02L180.80,108.02L181.71,108.02L182.62,108.02L183.53,108.02L184.45,108.02L185.36,108.02L186.27,108.02L187.18,108.02L188.09,108.02L189.00,108.02L189.92,108.02L190.83,108.02L191.74,108.02L192.65,108.03L193.56,108.03L194.48,108.03L195.39,108.03L196.30,108.03L197.21,108.03L198.12,108.03L199.03,108.03L199.95,108.04L200.86,108.04L201.77,108.04L202.68,108.04L203.59,108.04L204.50,108.04L205.42,108.05L206.33,108.05L207.24,108.05L208.15,108.05L209.06,108.05L209.98,108.05L210.89,108.06L211.80,108.06L212.71,108.06L213.62,108.06L214.53,108.06L215.45,108.06L216.36,108.07L217.27,108.07L218.18,108.07L219.09,108.07L220.01,108.07L220.92,108.07L221.83,108.08L222.74,108.08L223.65,108.08L224.57,108.08L225.48,108.08L226.39,108.08L227.30,108.09L228.21,108.09L229.12,108.09L230.04,108.09L230.95,108.09L231.86,108.09L232.77,108.09L233.68,108.09L234.60,108.10L235.51,108.10L236.42,108.10L237.33,108.10L238.24,108.10L239.15,108.10L240.07,108.10L240.98,108.10L241.89,108.10L242.80,108.10L243.71,108.10L244.63,108.10L245.54,108.10L246.45,108.10L247.36,108.10L248.27,108.10L249.18,108.10L250.10,108.10L251.01,108.10L251.92,108.10L252.83,108.10L253.74,108.10L254.65,108.10L255.57,108.10L256.48,108.10L257.39,108.10L258.30,108.10L259.21,108.09L260.13,108.09L261.04,108.09L261.95,108.09L262.86,108.09L263.77,108.09L264.68,108.08L265.60,108.08L266.51,108.08L267.42,108.08L268.33,108.07L269.24,108.07L270.15,108.07L271.07,108.06L271.98,108.06L272.89,108.06L273.80,108.05L274.71,108.05L275.62,108.05L276.53,108.04L277.45,108.04L278.36,108.03L279.27,108.03L280.18,108.02L281.09,108.02L282.00,108.01L282.92,108.01L283.83,108.00L284.74,108.00L285.65,107.99L286.56,107.98L287.47,107.98L288.38,107.97L289.30,107.96L290.21,107.96L291.12,107.95L292.03,107.94L292.94,107.93L293.85,107.93L294.76,107.92L295.68,107.91L296.59,107.90L297.50,107.89L298.41,107.88L299.32,107.87L300.23,107.86L301.14,107.85L302.06,107.84L302.97,107.83L303.88,107.82L304.79,107.81L305.70,107.80L306.61,107.79L307.52,107.78L308.43,107.77L309.35,107.76L310.26,107.74L311.17,107.73L312.08,107.72L312.99,107.70L313.90,107.69L314.81,107.68L315.72,107.66L316.63,107.65L317.55,107.64L318.46,107.62L319.37,107.61L320.28,107.59L321.19,107.57L322.10,107.56L323.01,107.54L323.92,107.53L324.83,107.51L325.74,107.49L326.66,107.47L327.57,107.46L328.48,107.44L329.39,107.42L330.30,107.40L331.21,107.38L332.12,107.36L333.03,107.34L333.94,107.32L334.85,107.30L335.76,107.28L336.67,107.26L337.58,107.24L338.50,107.22L339.41,107.20L340.32,107.18L341.23,107.15L342.14,107.13L343.05,107.11L343.96,107.08L344.87,107.06L345.78,107.03L346.69,107.01L347.60,106.98L348.51,106.96L349.42,106.93L350.33,106.91L351.24,106.88L352.15,106.85L353.06,106.83L353.97,106.80L354.88,106.77L355.79,106.74L356.71,106.71L357.62,106.68L358.53,106.65L359.44,106.62L360.35,106.59L361.26,106.56L362.17,106.53L363.08,106.50L363.99,106.47L364.90,106.43L365.81,106.40L366.72,106.37L367.63,106.33L368.54,106.30L369.45,106.27L370.36,106.23L371.27,106.19L372.18,106.16L373.09,106.12L374.00,106.09L374.91,106.05L375.82,106.01L376.73,105.97L377.64,105.93L378.55,105.90L379.45,105.86L380.36,105.82L381.27,105.78L382.18,105.73L383.09,105.69L384.00,105.65L384.91,105.61L385.82,105.57L386.73,105.52L387.64,105.48L388.55,105.44L389.46,105.39L390.37,105.35L391.28,105.30L392.19,105.26L393.10,105.21L394.01,105.16L394.92,105.11L395.82,105.07L396.73,105.02L397.64,104.97L398.55,104.92L399.46,104.87L400.37,104.81L401.28,104.75L402.18,104.68L403.09,104.60L403.99,104.51L404.89,104.42L405.78,104.30L406.68,104.18L407.57,104.04L408.46,103.88L409.34,103.70L410.22,103.50L411.10,103.28L411.97,103.04L412.84,102.78L413.70,102.50L414.55,102.20L415.40,101.88L416.25,101.54L417.08,101.19L417.92,100.81L418.74,100.41L419.56,100.00L420.37,99.56L421.17,99.11L421.97,98.64L422.75,98.16L423.53,97.65L424.30,97.13L425.06,96.60L425.81,96.05L426.55,95.48L427.28,94.91L427.99,94.31L428.70,93.71L429.40,93.09L430.08,92.46L430.75,91.81L431.41,91.16L432.06,90.49L432.69,89.82L433.31,89.13L433.92,88.44L434.51,87.73L435.08,87.02L435.65,86.29L436.19,85.56L436.73,84.82L437.24,84.08L437.75,83.32L438.00,80.25L438.70,79.38L439.38,78.50L440.04,77.60L440.68,76.69L441.31,75.76L441.91,74.82L442.49,73.86L443.06,72.89L443.61,71.91L444.14,70.91L444.65,69.90L445.15,68.88L445.63,67.85L446.09,66.81L446.54,65.75L446.97,64.69L447.38,63.62L447.78,62.53L448.17,61.44L448.53,60.34L448.89,59.23L449.23,58.11L449.55,56.98L449.86,55.85L450.16,54.71L450.44,53.56L450.71,52.41L450.97,51.25L451.22,50.09L451.45,48.92L451.67,47.75L451.88,46.58L452.08,45.40L452.26,44.22L452.44,43.03L452.60,41.84L452.76,40.66L452.91,39.47L453.05,38.28L453.18,37.09L453.30,35.90L453.42,34.71L453.53,33.52L453.64,32.33L453.74,31.15L453.84,29.97L453.93,28.79L454.02,27.62L454.11,26.44L454.20,25.28L454.28,24.12L454.36,22.96L454.44,21.81L454.52,20.66L454.61,19.53L454.69,18.39L454.77,17.27L454.86,16.16L454.95,15.05L455.04,13.95L455.14,12.86L455.24,11.79L455.34,10.72" fill="none" stroke="#007a00" stroke-width="2.5" stroke-dasharray="2.9 2.35"/>
<path d="M91.50,135.45L92.47,135.46L93.43,135.48L94.39,135.49L95.35,135.50L96.31,135.52L97.27,135.53L98.23,135.55L99.19,135.56L100.16,135.58L101.12,135.59L102.08,135.61L103.04,135.63L104.00,135.65L104.96,135.67L105.93,135.68L106.89,135.70L107.85,135.72L108.81,135.74L109.77,135.76L110.73,135.79L111.70,135.81L112.66,135.83L113.62,135.85L114.58,135.87L115.54,135.90L116.51,135.92L117.47,135.95L118.43,135.97L119.39,135.99L120.35,136.02L121.32,136.05L122.28,136.07L123.24,136.10L124.20,136.12L125.17,136.15L126.13,136.18L127.09,136.21L128.05,136.23L129.01,136.26L129.98,136.29L130.94,136.32L131.90,136.35L132.86,136.38L133.83,136.41L134.79,136.44L135.75,136.47L136.71,136.50L137.68,136.53L138.64,136.56L139.60,136.59L140.56,136.63L141.53,136.66L142.49,136.69L143.45,136.72L144.41,136.75L145.38,136.79L146.34,136.82L147.30,136.85L148.26,136.89L149.23,136.92L150.19,136.96L151.15,136.99L152.12,137.02L153.08,137.06L154.04,137.09L155.00,137.13L155.97,137.16L156.93,137.20L157.89,137.23L158.85,137.27L159.82,137.31L160.78,137.34L161.74,137.38L162.71,137.41L163.67,137.45L164.63,137.49L165.59,137.52L166.56,137.56L167.52,137.60L168.48,137.63L169.45,137.67L170.41,137.71L171.37,137.74L172.34,137.78L173.30,137.82L174.26,137.85L175.22,137.89L176.19,137.93L177.15,137.97L178.11,138.00L179.08,138.04L180.04,138.08L181.00,138.12L181.97,138.15L182.93,138.19L183.89,138.23L184.85,138.27L185.82,138.30L186.78,138.34L187.74,138.38L188.71,138.42L189.67,138.45L190.63,138.49L191.60,138.53L192.56,138.56L193.52,138.60L194.48,138.64L195.45,138.68L196.41,138.71L197.37,138.75L198.34,138.79L199.30,138.82L200.26,138.86L201.23,138.90L202.19,138.93L203.15,138.97L204.12,139.00L205.08,139.04L206.04,139.08L207.00,139.11L207.97,139.15L208.93,139.18L209.89,139.22L210.86,139.25L211.82,139.29L212.78,139.32L213.75,139.36L214.71,139.39L215.67,139.43L216.64,139.46L217.60,139.50L218.56,139.53L219.52,139.56L220.49,139.60L221.45,139.63L222.41,139.66L223.38,139.70L224.34,139.73L225.30,139.76L226.26,139.79L227.23,139.82L228.19,139.85L229.15,139.89L230.12,139.92L231.08,139.95L232.04,139.98L233.01,140.01L233.97,140.04L234.93,140.07L235.89,140.10L236.86,140.13L237.82,140.15L238.78,140.18L239.74,140.21L240.71,140.24L241.67,140.26L242.63,140.29L243.60,140.32L244.56,140.34L245.52,140.37L246.48,140.40L247.45,140.42L248.41,140.45L249.37,140.47L250.33,140.49L251.30,140.52L252.26,140.54L253.22,140.56L254.18,140.59L255.15,140.61L256.11,140.63L257.07,140.65L258.03,140.67L259.00,140.69L259.96,140.71L260.92,140.73L261.88,140.75L262.85,140.77L263.81,140.78L264.77,140.80L265.73,140.82L266.70,140.84L267.66,140.85L268.62,140.87L269.58,140.88L270.55,140.90L271.51,140.91L272.47,140.92L273.43,140.94L274.39,140.95L275.36,140.96L276.32,140.97L277.28,140.98L278.24,140.99L279.20,141.00L280.17,141.01L281.13,141.02L282.09,141.03L283.05,141.03L284.01,141.04L284.98,141.05L285.94,141.05L286.90,141.06L287.86,141.06L288.82,141.07L289.78,141.07L290.75,141.07L291.71,141.07L292.67,141.08L293.63,141.08L294.59,141.08L295.55,141.08L296.52,141.07L297.48,141.07L298.44,141.07L299.40,141.07L300.36,141.07L301.32,141.07L302.28,141.06L303.25,141.06L304.21,141.06L305.17,141.06L306.13,141.06L307.09,141.06L308.05,141.05L309.01,141.05L309.97,141.05L310.94,141.06L311.90,141.06L312.86,141.06L313.82,141.06L314.78,141.07L315.74,141.07L316.70,141.08L317.66,141.08L318.63,141.09L319.59,141.10L320.55,141.11L321.51,141.12L322.47,141.13L323.43,141.15L324.39,141.16L325.36,141.18L326.32,141.20L327.28,141.22L328.24,141.24L329.20,141.27L330.16,141.29L331.12,141.32L332.09,141.35L333.05,141.39L334.01,141.42L334.97,141.46L335.93,141.50L336.89,141.54L337.85,141.58L338.82,141.63L339.78,141.68L340.74,141.73L341.70,141.79L342.66,141.84L343.63,141.90L344.59,141.97L345.55,142.03L346.51,142.10L347.47,142.17L348.44,142.25L349.40,142.33L350.36,142.41L351.32,142.50L352.29,142.59L353.25,142.68L354.21,142.77L355.17,142.87L356.13,142.98L357.10,143.09L358.06,143.20L359.02,143.31L359.99,143.43L360.95,143.55L361.91,143.67L362.87,143.79L363.84,143.92L364.80,144.05L365.76,144.17L366.73,144.30L367.69,144.44L368.65,144.57L369.61,144.70L370.58,144.83L371.54,144.97L372.50,145.10L373.46,145.23L374.42,145.36L375.39,145.49L376.35,145.62L377.31,145.75L378.27,145.87L379.23,146.00L380.19,146.12L381.16,146.24L382.12,146.35L383.08,146.46L384.04,146.57L385.00,146.68L385.96,146.78L386.92,146.88L387.88,146.98L388.84,147.07L389.80,147.15L390.76,147.23L391.71,147.31L392.67,147.38L393.63,147.44L394.59,147.50L395.55,147.55L396.50,147.60L397.46,147.64L398.42,147.67L399.37,147.69L400.33,147.71L401.29,147.72L402.24,147.72L403.20,147.72L404.15,147.70L405.10,147.68L406.06,147.65L407.01,147.61L407.96,147.56L408.92,147.50L409.87,147.43L410.82,147.35L411.77,147.25L412.72,147.15L413.66,147.03L414.60,146.89L415.54,146.73L416.47,146.56L417.39,146.36L418.31,146.15L419.22,145.91L420.12,145.64L421.02,145.35L421.90,145.04L422.78,144.70L423.64,144.34L424.50,143.95L425.35,143.54L426.18,143.10L427.01,142.64L427.82,142.16L428.63,141.66L429.42,141.13L430.20,140.59L430.97,140.02L431.73,139.44L432.48,138.83L433.22,138.21L433.95,137.57L434.67,136.92L435.38,136.25L436.09,135.57L436.78,134.88L437.47,134.17L438.15,133.46L438.82,132.73L439.49,132.00L440.15,131.26L440.80,130.51L441.45,129.76L442.09,129.00L442.73,128.24L443.36,127.47L443.99,126.71L444.62,125.94L445.24,125.17L445.86,124.41L446.47,123.64L447.08,122.88L447.69,122.12L448.30,121.36L448.90,120.60L449.50,119.84L450.09,119.08L450.69,118.32L451.28,117.57L451.86,116.81L452.45,116.06L453.03,115.31L453.61,114.55L454.18,113.80L454.75,113.05L455.32,112.30L455.89,111.55L456.45,110.80L457.01,110.05L457.56,109.30L458.12,108.55L458.67,107.80" fill="none" stroke="#0000b0" stroke-width="2.3" stroke-dasharray="3.35 6.1 10.95 6.1"/>
<path d="M91.49,226.02L92.54,225.81L93.58,225.60L94.62,225.39L95.66,225.18L96.70,224.96L97.74,224.75L98.78,224.53L99.82,224.31L100.86,224.09L101.90,223.86L102.94,223.64L103.98,223.41L105.02,223.18L106.05,222.95L107.09,222.71L108.13,222.48L109.16,222.24L110.20,222.01L111.23,221.77L112.27,221.52L113.30,221.28L114.33,221.04L115.37,220.79L116.40,220.54L117.43,220.29L118.46,220.04L119.50,219.78L120.53,219.53L121.56,219.27L122.59,219.01L123.62,218.75L124.65,218.49L125.68,218.22L126.70,217.96L127.73,217.69L128.76,217.42L129.79,217.15L130.81,216.88L131.84,216.60L132.86,216.32L133.89,216.05L134.91,215.77L135.94,215.49L136.96,215.20L137.98,214.92L139.01,214.63L140.03,214.34L141.05,214.05L142.07,213.76L143.09,213.47L144.11,213.17L145.13,212.88L146.15,212.58L147.17,212.28L148.19,211.98L149.21,211.67L150.22,211.37L151.24,211.06L152.26,210.75L153.27,210.45L154.29,210.13L155.30,209.82L156.32,209.51L157.33,209.19L158.34,208.87L159.36,208.55L160.37,208.23L161.38,207.91L162.39,207.58L163.40,207.26L164.41,206.93L165.42,206.60L166.43,206.27L167.44,205.94L168.45,205.60L169.45,205.27L170.46,204.93L171.47,204.59L172.47,204.25L173.48,203.91L174.48,203.56L175.49,203.22L176.49,202.87L177.50,202.52L178.50,202.17L179.50,201.82L180.50,201.47L181.50,201.11L182.50,200.76L183.50,200.40L184.50,200.04L185.50,199.68L186.50,199.31L187.50,198.95L188.49,198.58L189.49,198.22L190.49,197.85L191.48,197.48L192.48,197.11L193.47,196.73L194.47,196.36L195.46,195.98L196.45,195.60L197.44,195.22L198.43,194.84L199.43,194.46L200.42,194.07L201.41,193.69L202.39,193.30L203.38,192.91L204.37,192.52L205.36,192.13L206.35,191.74L207.33,191.34L208.32,190.95L209.30,190.55L210.29,190.15L211.27,189.75L212.25,189.35L213.24,188.94L214.22,188.54L215.20,188.13L216.18,187.72L217.16,187.31L218.14,186.90L219.12,186.49L220.10,186.08L221.08,185.66L222.05,185.24L223.03,184.83L224.00,184.41L224.98,183.98L225.95,183.56L226.93,183.14L227.90,182.71L228.87,182.29L229.85,181.86L230.82,181.43L231.79,181.00L232.76,180.56L233.73,180.13L234.70,179.69L235.67,179.26L236.63,178.82L237.60,178.38L238.57,177.94L239.53,177.49L240.50,177.05L241.46,176.60L242.43,176.16L243.39,175.71L244.35,175.26L245.31,174.81L246.28,174.36L247.24,173.90L248.20,173.45L249.16,172.99L250.11,172.53L251.07,172.07L252.03,171.61L252.99,171.15L253.94,170.69L254.90,170.22L255.85,169.76L256.80,169.29L257.76,168.82L258.71,168.35L259.66,167.88L260.61,167.41L261.56,166.93L262.51,166.46L263.46,165.98L264.41,165.50L265.36,165.02L266.31,164.54L267.25,164.06L268.20,163.57L269.14,163.09L270.09,162.60L271.03,162.12L271.97,161.63L272.92,161.14L273.86,160.65L274.80,160.15L275.74,159.66L276.68,159.16L277.62,158.67L278.55,158.17L279.49,157.67L280.43,157.17L281.36,156.67L282.30,156.16L283.23,155.66L284.17,155.15L285.10,154.65L286.03,154.14L286.96,153.63L287.89,153.12L288.82,152.61L289.75,152.09L290.68,151.58L291.61,151.06L292.53,150.55L293.46,150.03L294.39,149.51L295.31,148.99L296.23,148.47L297.16,147.94L298.08,147.42L299.00,146.89L299.92,146.37L300.84,145.84L301.76,145.31L302.68,144.78L303.60,144.25L304.52,143.71L305.43,143.18L306.35,142.64L307.26,142.11L308.18,141.57L309.09,141.03L310.00,140.49L310.92,139.95L311.83,139.41L312.74,138.86L313.65,138.32L314.56,137.77L315.46,137.22L316.37,136.67L317.28,136.12L318.18,135.57L319.09,135.02L319.99,134.47L320.89,133.91L321.80,133.36L322.70,132.80L323.60,132.24L324.50,131.68L325.40,131.11L326.29,130.55L327.19,129.98L328.08,129.42L328.98,128.85L329.87,128.28L330.76,127.70L331.65,127.13L332.54,126.55L333.43,125.97L334.32,125.39L335.20,124.81L336.09,124.22L336.97,123.63L337.86,123.05L338.74,122.45L339.62,121.86L340.49,121.26L341.37,120.66L342.25,120.06L343.12,119.46L343.99,118.85L344.86,118.25L345.73,117.64L346.60,117.02L347.47,116.41L348.34,115.79L349.20,115.17L350.06,114.54L350.92,113.91L351.78,113.28L352.64,112.65L353.50,112.02L354.35,111.38L355.20,110.74L356.05,110.09L356.90,109.44L357.75,108.79L358.60,108.14L359.44,107.48L360.28,106.83L361.13,106.17L361.97,105.50L362.81,104.84L363.65,104.18L364.48,103.51L365.32,102.84L366.16,102.17L367.00,101.51L367.84,100.84L368.67,100.17L369.51,99.50L370.35,98.84L371.19,98.17L372.03,97.50L372.87,96.84L373.71,96.18L374.55,95.52L375.39,94.86L376.23,94.20L377.08,93.55L377.92,92.90L378.77,92.25L379.62,91.60L380.47,90.96L381.33,90.32L382.18,89.69L383.04,89.06L383.90,88.44L384.76,87.82L385.63,87.20L386.50,86.59L387.37,85.98L388.24,85.38L389.12,84.79L390.00,84.20L390.88,83.62L391.77,83.05L392.66,82.48L393.55,81.92L394.45,81.36L395.35,80.82L396.26,80.28L397.17,79.75L398.09,79.23L399.01,78.71L399.93,78.21L400.86,77.71L401.80,77.23L402.74,76.75L403.68,76.28L404.63,75.83L405.59,75.38L406.55,74.94L407.52,74.51L408.49,74.10L409.47,73.69L410.45,73.30L411.44,72.92L412.44,72.57L413.44,72.24L414.44,71.95L415.44,71.70L416.43,71.49L417.43,71.35L418.42,71.27L419.40,71.26L420.38,71.32L421.35,71.47L422.31,71.70L423.26,72.00L424.20,72.38L425.12,72.81L426.03,73.32L426.93,73.87L427.80,74.48L428.66,75.14L429.51,75.84L430.33,76.58L431.13,77.35L431.91,78.15L432.66,78.98L433.39,79.82L434.10,80.68L434.78,81.56L435.44,82.44L436.07,83.34L436.69,84.25L437.29,85.17L437.88,86.09L438.45,87.02L439.01,87.96L439.56,88.90L440.10,89.85L440.64,90.79L441.17,91.74L441.69,92.68L442.22,93.63L442.74,94.57L443.26,95.50L443.79,96.43L444.33,97.35L444.87,98.27L445.41,99.18L445.97,100.07L446.54,100.96L447.13,101.83L447.72,102.68L448.34,103.53L448.97,104.35L449.63,105.16L450.30,105.95L451.01,106.72L451.73,107.46L452.48,108.19L453.27,108.89L454.08,109.56L454.92,110.21L455.80,110.84L456.72,111.43L457.67,111.99" fill="none" stroke="#ad0000" stroke-width="2.2" stroke-dasharray="10.9 6.15"/>
<path d="M91.54,249.02L92.66,248.74L93.78,248.46L94.90,248.18L96.02,247.90L97.14,247.62L98.26,247.33L99.38,247.05L100.50,246.77L101.63,246.49L102.75,246.20L103.87,245.92L104.99,245.64L106.11,245.35L107.23,245.07L108.36,244.79L109.48,244.50L110.60,244.22L111.72,243.93L112.84,243.64L113.97,243.36L115.09,243.07L116.21,242.78L117.33,242.49L118.46,242.20L119.58,241.91L120.70,241.62L121.82,241.33L122.94,241.04L124.07,240.75L125.19,240.45L126.31,240.16L127.43,239.87L128.56,239.57L129.68,239.28L130.80,238.98L131.92,238.68L133.04,238.38L134.16,238.08L135.28,237.78L136.41,237.48L137.53,237.18L138.65,236.88L139.77,236.58L140.89,236.27L142.01,235.97L143.13,235.66L144.25,235.35L145.37,235.05L146.49,234.74L147.61,234.43L148.73,234.12L149.84,233.80L150.96,233.49L152.08,233.18L153.20,232.86L154.32,232.55L155.43,232.23L156.55,231.91L157.67,231.59L158.78,231.27L159.90,230.95L161.02,230.62L162.13,230.30L163.25,229.97L164.36,229.65L165.47,229.32L166.59,228.99L167.70,228.66L168.81,228.33L169.93,227.99L171.04,227.66L172.15,227.32L173.26,226.98L174.37,226.64L175.48,226.30L176.59,225.96L177.70,225.62L178.81,225.27L179.92,224.93L181.02,224.58L182.13,224.23L183.24,223.88L184.34,223.53L185.45,223.17L186.55,222.82L187.66,222.46L188.76,222.10L189.87,221.74L190.97,221.38L192.07,221.02L193.17,220.65L194.27,220.28L195.37,219.91L196.47,219.54L197.57,219.17L198.67,218.80L199.76,218.42L200.86,218.04L201.96,217.66L203.05,217.28L204.15,216.90L205.24,216.51L206.33,216.13L207.43,215.74L208.52,215.35L209.61,214.96L210.70,214.56L211.79,214.16L212.87,213.77L213.96,213.37L215.05,212.96L216.14,212.56L217.22,212.15L218.30,211.74L219.39,211.33L220.47,210.92L221.55,210.50L222.63,210.09L223.71,209.67L224.79,209.25L225.87,208.82L226.95,208.40L228.02,207.97L229.10,207.54L230.17,207.11L231.25,206.67L232.32,206.23L233.39,205.79L234.46,205.35L235.53,204.91L236.60,204.46L237.67,204.01L238.73,203.56L239.80,203.11L240.86,202.65L241.93,202.20L242.99,201.73L244.05,201.27L245.11,200.81L246.17,200.34L247.23,199.87L248.28,199.39L249.34,198.92L250.39,198.44L251.45,197.96L252.50,197.47L253.55,196.99L254.60,196.50L255.65,196.01L256.70,195.51L257.74,195.02L258.79,194.52L259.83,194.02L260.88,193.51L261.92,193.01L262.96,192.50L264.00,191.99L265.04,191.47L266.08,190.96L267.11,190.44L268.15,189.92L269.18,189.40L270.22,188.87L271.25,188.34L272.28,187.82L273.31,187.28L274.34,186.75L275.37,186.21L276.39,185.67L277.42,185.13L278.44,184.59L279.47,184.05L280.49,183.50L281.51,182.95L282.53,182.40L283.55,181.85L284.57,181.29L285.59,180.74L286.61,180.18L287.62,179.62L288.64,179.05L289.65,178.49L290.66,177.92L291.67,177.35L292.69,176.78L293.70,176.21L294.70,175.64L295.71,175.06L296.72,174.48L297.72,173.90L298.73,173.32L299.73,172.74L300.74,172.16L301.74,171.57L302.74,170.98L303.74,170.39L304.74,169.80L305.74,169.21L306.74,168.62L307.73,168.02L308.73,167.42L309.72,166.83L310.72,166.23L311.71,165.62L312.70,165.02L313.69,164.42L314.69,163.81L315.67,163.21L316.66,162.60L317.65,161.99L318.64,161.38L319.62,160.76L320.61,160.15L321.59,159.54L322.58,158.92L323.56,158.30L324.54,157.68L325.52,157.06L326.50,156.44L327.48,155.82L328.46,155.20L329.44,154.57L330.42,153.95L331.39,153.32L332.37,152.70L333.34,152.07L334.32,151.44L335.29,150.81L336.26,150.18L337.23,149.54L338.21,148.91L339.18,148.28L340.15,147.64L341.11,147.01L342.08,146.37L343.05,145.73L344.02,145.10L344.98,144.46L345.95,143.82L346.91,143.18L347.87,142.54L348.84,141.89L349.80,141.25L350.76,140.61L351.72,139.96L352.68,139.32L353.64,138.68L354.60,138.03L355.56,137.38L356.51,136.74L357.47,136.09L358.43,135.44L359.38,134.80L360.34,134.15L361.29,133.50L362.25,132.85L363.20,132.20L364.16,131.55L365.11,130.91L366.07,130.26L367.02,129.61L367.98,128.96L368.93,128.31L369.89,127.66L370.84,127.01L371.80,126.37L372.75,125.72L373.71,125.07L374.67,124.43L375.63,123.78L376.59,123.13L377.55,122.49L378.51,121.84L379.47,121.20L380.43,120.56L381.40,119.91L382.36,119.27L383.33,118.63L384.30,117.99L385.27,117.35L386.24,116.71L387.21,116.08L388.18,115.44L389.16,114.81L390.13,114.17L391.11,113.54L392.09,112.91L393.08,112.28L394.06,111.65L395.05,111.03L396.03,110.40L397.03,109.78L398.02,109.16L399.01,108.54L400.01,107.92L401.01,107.30L402.01,106.68L403.02,106.07L404.02,105.46L405.03,104.85L406.05,104.24L407.06,103.63L408.08,103.03L409.09,102.42L410.10,101.81L411.12,101.21L412.13,100.60L413.14,99.99L414.15,99.37L415.15,98.76L416.15,98.14L417.15,97.51L418.14,96.89L419.13,96.25L420.11,95.62L421.08,94.97L422.05,94.33L423.01,93.67L423.96,93.01L424.90,92.34L425.83,91.66L426.75,90.98L427.66,90.28L428.56,89.58L429.45,88.87L430.32,88.14L431.18,87.41L432.03,86.66L432.86,85.91L433.68,85.14L434.49,84.36L435.27,83.56L436.05,82.76L436.80,81.93L437.54,81.10L438.25,80.25L438.95,79.38L439.63,78.50L440.29,77.60L440.93,76.69L441.56,75.76L442.16,74.82L442.74,73.86L443.31,72.89L443.86,71.91L444.39,70.91L444.90,69.90L445.40,68.88L445.88,67.85L446.34,66.81L446.79,65.75L447.22,64.69L447.63,63.62L448.03,62.53L448.42,61.44L448.78,60.34L449.14,59.23L449.48,58.11L449.80,56.98L450.11,55.85L450.41,54.71L450.69,53.56L450.96,52.41L451.22,51.25L451.47,50.09L451.70,48.92L451.92,47.75L452.13,46.58L452.33,45.40L452.51,44.22L452.69,43.03L452.85,41.84L453.01,40.66L453.16,39.47L453.30,38.28L453.43,37.09L453.55,35.90L453.67,34.71L453.78,33.52L453.89,32.33L453.99,31.15L454.09,29.97L454.18,28.79L454.27,27.62L454.36,26.44L454.45,25.28L454.53,24.12L454.61,22.96L454.69,21.81L454.77,20.66L454.86,19.53L454.94,18.39L455.02,17.27L455.11,16.16L455.20,15.05L455.29,13.95L455.39,12.86L455.49,11.79L455.59,10.72" fill="none" stroke="#000000" stroke-width="2.3"/>
</g>
<g stroke="#000" fill="none"><path d="M85.0,246.64h2.8M465.8,246.64h-2.8" stroke-width="1.6"/><path d="M85.0,239.11h2.8M465.8,239.11h-2.8" stroke-width="1.6"/><path d="M85.0,231.58h2.8M465.8,231.58h-2.8" stroke-width="1.6"/><path d="M85.0,224.05h4.7M465.8,224.05h-4.7" stroke-width="1.9"/><path d="M85.0,216.52h2.8M465.8,216.52h-2.8" stroke-width="1.6"/><path d="M85.0,208.99h2.8M465.8,208.99h-2.8" stroke-width="1.6"/><path d="M85.0,201.46h2.8M465.8,201.46h-2.8" stroke-width="1.6"/><path d="M85.0,193.93h2.8M465.8,193.93h-2.8" stroke-width="1.6"/><path d="M85.0,186.40h4.7M465.8,186.40h-4.7" stroke-width="1.9"/><path d="M85.0,178.87h2.8M465.8,178.87h-2.8" stroke-width="1.6"/><path d="M85.0,171.34h2.8M465.8,171.34h-2.8" stroke-width="1.6"/><path d="M85.0,163.81h2.8M465.8,163.81h-2.8" stroke-width="1.6"/><path d="M85.0,156.28h2.8M465.8,156.28h-2.8" stroke-width="1.6"/><path d="M85.0,148.75h4.7M465.8,148.75h-4.7" stroke-width="1.9"/><path d="M85.0,141.22h2.8M465.8,141.22h-2.8" stroke-width="1.6"/><path d="M85.0,133.69h2.8M465.8,133.69h-2.8" stroke-width="1.6"/><path d="M85.0,126.16h2.8M465.8,126.16h-2.8" stroke-width="1.6"/><path d="M85.0,118.63h2.8M465.8,118.63h-2.8" stroke-width="1.6"/><path d="M85.0,111.10h4.7M465.8,111.10h-4.7" stroke-width="1.9"/><path d="M85.0,103.57h2.8M465.8,103.57h-2.8" stroke-width="1.6"/><path d="M85.0,96.04h2.8M465.8,96.04h-2.8" stroke-width="1.6"/><path d="M85.0,88.51h2.8M465.8,88.51h-2.8" stroke-width="1.6"/><path d="M85.0,80.98h2.8M465.8,80.98h-2.8" stroke-width="1.6"/><path d="M85.0,73.45h4.7M465.8,73.45h-4.7" stroke-width="1.9"/><path d="M85.0,65.92h2.8M465.8,65.92h-2.8" stroke-width="1.6"/><path d="M85.0,58.39h2.8M465.8,58.39h-2.8" stroke-width="1.6"/><path d="M85.0,50.86h2.8M465.8,50.86h-2.8" stroke-width="1.6"/><path d="M85.0,43.33h2.8M465.8,43.33h-2.8" stroke-width="1.6"/><path d="M85.0,35.80h4.7M465.8,35.80h-4.7" stroke-width="1.9"/><path d="M85.0,28.27h2.8M465.8,28.27h-2.8" stroke-width="1.6"/><path d="M85.0,20.74h2.8M465.8,20.74h-2.8" stroke-width="1.6"/><path d="M96.58,251.15v-1.45M96.58,16.1v1.45" stroke-width="0.8"/><path d="M110.14,251.15v-1.45M110.14,16.1v1.45" stroke-width="0.8"/><path d="M119.76,251.15v-1.45M119.76,16.1v1.45" stroke-width="0.8"/><path d="M127.22,251.15v-1.45M127.22,16.1v1.45" stroke-width="0.8"/><path d="M133.32,251.15v-1.45M133.32,16.1v1.45" stroke-width="0.8"/><path d="M138.47,251.15v-1.45M138.47,16.1v1.45" stroke-width="0.8"/><path d="M142.94,251.15v-1.45M142.94,16.1v1.45" stroke-width="0.8"/><path d="M146.88,251.15v-1.45M146.88,16.1v1.45" stroke-width="0.8"/><path d="M150.40,251.15v-4.3M150.40,16.1v4.3" stroke-width="2.0"/><path d="M173.58,251.15v-1.45M173.58,16.1v1.45" stroke-width="0.8"/><path d="M187.14,251.15v-1.45M187.14,16.1v1.45" stroke-width="0.8"/><path d="M196.76,251.15v-1.45M196.76,16.1v1.45" stroke-width="0.8"/><path d="M204.22,251.15v-1.45M204.22,16.1v1.45" stroke-width="0.8"/><path d="M210.32,251.15v-1.45M210.32,16.1v1.45" stroke-width="0.8"/><path d="M215.47,251.15v-1.45M215.47,16.1v1.45" stroke-width="0.8"/><path d="M219.94,251.15v-1.45M219.94,16.1v1.45" stroke-width="0.8"/><path d="M223.88,251.15v-1.45M223.88,16.1v1.45" stroke-width="0.8"/><path d="M227.40,251.15v-4.3M227.40,16.1v4.3" stroke-width="2.0"/><path d="M250.58,251.15v-1.45M250.58,16.1v1.45" stroke-width="0.8"/><path d="M264.14,251.15v-1.45M264.14,16.1v1.45" stroke-width="0.8"/><path d="M273.76,251.15v-1.45M273.76,16.1v1.45" stroke-width="0.8"/><path d="M281.22,251.15v-1.45M281.22,16.1v1.45" stroke-width="0.8"/><path d="M287.32,251.15v-1.45M287.32,16.1v1.45" stroke-width="0.8"/><path d="M292.47,251.15v-1.45M292.47,16.1v1.45" stroke-width="0.8"/><path d="M296.94,251.15v-1.45M296.94,16.1v1.45" stroke-width="0.8"/><path d="M300.88,251.15v-1.45M300.88,16.1v1.45" stroke-width="0.8"/><path d="M304.40,251.15v-4.3M304.40,16.1v4.3" stroke-width="2.0"/><path d="M327.58,251.15v-1.45M327.58,16.1v1.45" stroke-width="0.8"/><path d="M341.14,251.15v-1.45M341.14,16.1v1.45" stroke-width="0.8"/><path d="M350.76,251.15v-1.45M350.76,16.1v1.45" stroke-width="0.8"/><path d="M358.22,251.15v-1.45M358.22,16.1v1.45" stroke-width="0.8"/><path d="M364.32,251.15v-1.45M364.32,16.1v1.45" stroke-width="0.8"/><path d="M369.47,251.15v-1.45M369.47,16.1v1.45" stroke-width="0.8"/><path d="M373.94,251.15v-1.45M373.94,16.1v1.45" stroke-width="0.8"/><path d="M377.88,251.15v-1.45M377.88,16.1v1.45" stroke-width="0.8"/><path d="M381.40,251.15v-4.3M381.40,16.1v4.3" stroke-width="2.0"/><path d="M404.58,251.15v-1.45M404.58,16.1v1.45" stroke-width="0.8"/><path d="M418.14,251.15v-1.45M418.14,16.1v1.45" stroke-width="0.8"/><path d="M427.76,251.15v-1.45M427.76,16.1v1.45" stroke-width="0.8"/><path d="M435.22,251.15v-1.45M435.22,16.1v1.45" stroke-width="0.8"/><path d="M441.32,251.15v-1.45M441.32,16.1v1.45" stroke-width="0.8"/><path d="M446.47,251.15v-1.45M446.47,16.1v1.45" stroke-width="0.8"/><path d="M450.94,251.15v-1.45M450.94,16.1v1.45" stroke-width="0.8"/><path d="M454.88,251.15v-1.45M454.88,16.1v1.45" stroke-width="0.8"/><path d="M458.40,251.15v-4.3M458.40,16.1v4.3" stroke-width="2.0"/></g>
<rect x="85.0" y="16.1" width="380.8" height="235.05" fill="none" stroke="#000" stroke-width="2.25"/>
<text x="53.25" y="41.73" style="font-family:'Liberation Sans',sans-serif;font-size:16.9px">100</text>
<text x="62.72" y="79.38" style="font-family:'Liberation Sans',sans-serif;font-size:16.9px">50</text>
<text x="72.01" y="117.03" style="font-family:'Liberation Sans',sans-serif;font-size:16.9px">0</text>
<text x="62.72" y="154.68" style="font-family:'Liberation Sans',sans-serif;font-size:16.9px">50</text>
<path d="M51.99,150.25h8.6" stroke="#000" stroke-width="1.15"/>
<text x="53.25" y="192.33" style="font-family:'Liberation Sans',sans-serif;font-size:16.9px">100</text>
<path d="M42.20,187.90h8.6" stroke="#000" stroke-width="1.15"/>
<text x="53.25" y="229.98" style="font-family:'Liberation Sans',sans-serif;font-size:16.9px">150</text>
<path d="M42.20,225.55h8.6" stroke="#000" stroke-width="1.15"/>
<text transform="translate(205.45,270.15) scale(0.9285,1)" style="font-family:'Liberation Sans',sans-serif;font-size:17.43px" fill="#000" xml:space="preserve">0.001</text>
<text transform="translate(287.57,270.15) scale(0.9069,1)" style="font-family:'Liberation Sans',sans-serif;font-size:17.43px" fill="#000" xml:space="preserve">0.01</text>
<text transform="translate(369.06,270.15) scale(0.9224,1)" style="font-family:'Liberation Sans',sans-serif;font-size:17.43px" fill="#000" xml:space="preserve">0.1</text>
<text transform="translate(454.27,270.15) scale(0.6576,1)" style="font-family:'Liberation Sans',sans-serif;font-size:17.68px" fill="#000" xml:space="preserve">1</text>
<text transform="translate(133.25,272.60) scale(0.9446,1)" style="font-family:'Liberation Sans',sans-serif;font-size:17.86px" fill="#000" xml:space="preserve">10</text>
<text transform="translate(159.86,264.60) scale(1.0189,1)" style="font-family:'Liberation Sans',sans-serif;font-size:11.74px" fill="#000" xml:space="preserve">4</text>
<path d="M153.0,261.9h6.0" stroke="#222" stroke-width="0.85"/>
<text transform="translate(264.82,298.60) scale(1.0164,1)" style="font-family:'Liberation Serif',serif;font-weight:bold;font-style:italic;font-size:21.52px" fill="#000" xml:space="preserve">x</text>
<text transform="translate(276.84,301.60) scale(1.0382,1)" style="font-family:'Liberation Serif',serif;font-weight:bold;font-style:italic;font-size:13.85px" fill="#000" xml:space="preserve">B</text>
<g transform="translate(0,244) rotate(-90)"><text transform="translate(0.49,34.00) scale(1.0954,1)" style="font-family:'Liberation Serif',serif;font-weight:bold;font-style:italic;font-size:17.69px" fill="#000" xml:space="preserve">Im</text><path transform="translate(29.49,34.06) scale(0.01639,-0.01640)" d="M1056 720Q1014 693 983.0 643.0Q952 593 941.0 560.0Q930 527 911 455Q907 441 905 434Q904 430 896.5 403.5Q889 377 887.5 371.5Q886 366 880.0 341.5Q874 317 872.0 308.5Q870 300 865.0 278.5Q860 257 858.5 246.0Q857 235 853.5 215.5Q850 196 849.0 182.0Q848 168 847.0 151.0Q846 134 846 118Q846 93 860.0 75.5Q874 58 898 58Q910 58 918 62L921 57Q898 33 843.5 11.5Q789 -10 755 -10Q731 -10 718.5 32.0Q706 74 706 107Q706 124 707.5 142.0Q709 160 710.5 174.0Q712 188 716.0 208.5Q720 229 722.5 240.5Q725 252 730.5 275.0Q736 298 738.5 306.0Q741 314 748.0 340.0Q755 366 757 372Q701 332 671 332Q650 332 607.0 337.0Q564 342 543 342Q481 342 446.5 319.5Q412 297 401.5 260.0Q391 223 386.5 183.0Q382 143 369.0 98.5Q356 54 328 27Q304 4 244.5 -14.5Q185 -33 147 -33Q127 -33 118 -23Q226 -11 376 641Q372 645 365 645Q340 645 303 632Q215 602 163.5 552.5Q112 503 112 420Q112 369 134 338Q95 342 57.0 382.0Q19 422 19 461Q19 479 48.5 508.0Q78 537 104 556Q186 614 300.0 650.0Q414 686 516 686Q532 686 537 675Q501 564 431 340Q483 399 549 399Q575 399 626.0 394.0Q677 389 703 389Q751 389 769 418Q776 430 783 467Q790 498 814.0 568.5Q838 639 850 653Q870 676 939.5 698.5Q1009 721 1049 723Z"/><text transform="translate(52.71,25.90) scale(0.8724,1)" style="font-family:'Liberation Serif',serif;font-weight:bold;font-style:italic;font-size:12.92px" fill="#000" xml:space="preserve">NLO</text><text transform="translate(45.12,39.00) scale(0.8992,1)" style="font-family:'Liberation Serif',serif;font-weight:bold;font-style:italic;font-size:12.62px" fill="#000" xml:space="preserve">V</text><path d="M78.5,38.3L85.4,16.2" stroke="#000" stroke-width="1.9" fill="none"/><text transform="translate(87.69,34.00) scale(1.0704,1)" style="font-family:'Liberation Serif',serif;font-weight:bold;font-style:italic;font-size:17.69px" fill="#000" xml:space="preserve">Im</text><path transform="translate(113.98,34.06) scale(0.01688,-0.01640)" d="M1056 720Q1014 693 983.0 643.0Q952 593 941.0 560.0Q930 527 911 455Q907 441 905 434Q904 430 896.5 403.5Q889 377 887.5 371.5Q886 366 880.0 341.5Q874 317 872.0 308.5Q870 300 865.0 278.5Q860 257 858.5 246.0Q857 235 853.5 215.5Q850 196 849.0 182.0Q848 168 847.0 151.0Q846 134 846 118Q846 93 860.0 75.5Q874 58 898 58Q910 58 918 62L921 57Q898 33 843.5 11.5Q789 -10 755 -10Q731 -10 718.5 32.0Q706 74 706 107Q706 124 707.5 142.0Q709 160 710.5 174.0Q712 188 716.0 208.5Q720 229 722.5 240.5Q725 252 730.5 275.0Q736 298 738.5 306.0Q741 314 748.0 340.0Q755 366 757 372Q701 332 671 332Q650 332 607.0 337.0Q564 342 543 342Q481 342 446.5 319.5Q412 297 401.5 260.0Q391 223 386.5 183.0Q382 143 369.0 98.5Q356 54 328 27Q304 4 244.5 -14.5Q185 -33 147 -33Q127 -33 118 -23Q226 -11 376 641Q372 645 365 645Q340 645 303 632Q215 602 163.5 552.5Q112 503 112 420Q112 369 134 338Q95 342 57.0 382.0Q19 422 19 461Q19 479 48.5 508.0Q78 537 104 556Q186 614 300.0 650.0Q414 686 516 686Q532 686 537 675Q501 564 431 340Q483 399 549 399Q575 399 626.0 394.0Q677 389 703 389Q751 389 769 418Q776 430 783 467Q790 498 814.0 568.5Q838 639 850 653Q870 676 939.5 698.5Q1009 721 1049 723Z"/><text transform="translate(138.22,25.90) scale(0.9156,1)" style="font-family:'Liberation Serif',serif;font-weight:bold;font-style:italic;font-size:12.92px" fill="#000" xml:space="preserve">LO</text><text transform="translate(130.80,39.00) scale(0.9228,1)" style="font-family:'Liberation Serif',serif;font-weight:bold;font-style:italic;font-size:12.62px" fill="#000" xml:space="preserve">V</text><path d="M160.8,29.4h8.7" stroke="#000" stroke-width="1.9" fill="none"/><text transform="translate(172.24,34.00) scale(1.0270,1)" style="font-family:'Liberation Serif',serif;font-weight:bold;font-style:italic;font-size:17.42px" fill="#000" xml:space="preserve">1</text><text transform="translate(190.85,34.00) scale(0.7161,1)" style="font-family:'Liberation Serif',serif;font-weight:bold;font-size:17.00px" fill="#000" xml:space="preserve">[</text><text transform="translate(195.83,34.00) scale(0.9893,1)" style="font-family:'Liberation Serif',serif;font-weight:bold;font-size:17.85px" fill="#000" xml:space="preserve">%</text><text transform="translate(214.97,34.00) scale(0.7754,1)" style="font-family:'Liberation Serif',serif;font-weight:bold;font-size:17.00px" fill="#000" xml:space="preserve">]</text></g>
<path d="M209.0,16.1V89.1H338.3V16.1" fill="none" stroke="#404040" stroke-width="1.3"/>
<text transform="translate(219.20,37.90) scale(1.1651,1)" style="font-family:'Liberation Serif',serif;font-weight:bold;font-style:italic;font-size:12.75px" fill="#000" xml:space="preserve">minimalist model</text>
<text transform="translate(237.70,58.90) scale(1.2077,1)" style="font-family:'Liberation Serif',serif;font-weight:bold;font-style:italic;font-size:13.80px" fill="#000" xml:space="preserve">t</text>
<path d="M229.9,55.2h7.2" stroke="#000" stroke-width="1.5"/>
<path d="M249.3,53.7h8.6M248.7,57.5h8.6" stroke="#000" stroke-width="1.45"/>
<text transform="translate(262.48,58.90) scale(1.0188,1)" style="font-family:'Liberation Serif',serif;font-weight:bold;font-style:italic;font-size:13.69px" fill="#000" xml:space="preserve">0.5</text>
<text transform="translate(284.98,58.90) scale(0.9969,1)" style="font-family:'Liberation Serif',serif;font-weight:bold;font-style:italic;font-size:14.00px" fill="#000" xml:space="preserve">GeV</text>
<text transform="translate(311.79,52.50) scale(0.8844,1)" style="font-family:'Liberation Serif',serif;font-weight:bold;font-style:italic;font-size:10.15px" fill="#000" xml:space="preserve">2</text>
<text transform="translate(228.32,76.60) scale(1.2263,1)" style="font-family:'Liberation Serif',serif;font-weight:bold;font-style:italic;font-size:13.80px" fill="#000" xml:space="preserve">Q</text>
<text transform="translate(240.68,69.80) scale(0.9001,1)" style="font-family:'Liberation Serif',serif;font-weight:bold;font-style:italic;font-size:8.62px" fill="#000" xml:space="preserve">2</text>
<text transform="translate(238.89,80.70) scale(1.1074,1)" style="font-family:'Liberation Serif',serif;font-weight:bold;font-style:italic;font-size:9.23px" fill="#000" xml:space="preserve">0</text>
<path d="M249.3,71.4h8.6M248.7,75.2h8.6" stroke="#000" stroke-width="1.45"/>
<text transform="translate(263.05,76.60) scale(1.0661,1)" style="font-family:'Liberation Serif',serif;font-weight:bold;font-style:italic;font-size:13.69px" fill="#000" xml:space="preserve">4.0</text>
<text transform="translate(285.48,76.60) scale(0.9893,1)" style="font-family:'Liberation Serif',serif;font-weight:bold;font-style:italic;font-size:14.00px" fill="#000" xml:space="preserve">GeV</text>
<text transform="translate(312.09,70.70) scale(0.8776,1)" style="font-family:'Liberation Serif',serif;font-weight:bold;font-style:italic;font-size:10.00px" fill="#000" xml:space="preserve">2</text>
</g>
</svg>
</body></html>
